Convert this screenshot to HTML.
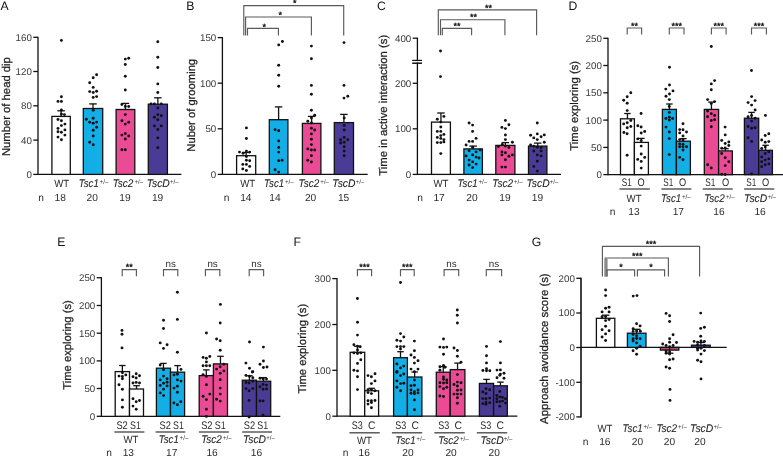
<!DOCTYPE html>
<html><head><meta charset="utf-8"><style>
html,body{margin:0;padding:0;background:#fff;}
svg{display:block;will-change:transform;}
text{font-family:"Liberation Sans", sans-serif;text-rendering:geometricPrecision;}
</style></head><body>
<svg width="783" height="457" viewBox="0 0 783 457">
<rect width="783" height="457" fill="#fff"/>
<text x="0.50" y="9.80" font-size="12.2" text-anchor="start" fill="#111" >A</text>
<text transform="translate(9.90,106.65) rotate(-90)" x="0" y="0" font-size="11.3" text-anchor="middle" fill="#1e1e1e" stroke="#1e1e1e" stroke-width="0.25" textLength="98.90" lengthAdjust="spacingAndGlyphs">Number of head dip</text>
<line x1="38.00" y1="36.70" x2="38.00" y2="175.00" stroke="#111" stroke-width="1.3"/>
<line x1="33.30" y1="174.40" x2="38.00" y2="174.40" stroke="#111" stroke-width="1.3"/>
<text x="31.90" y="177.80" font-size="9.75" text-anchor="end" fill="#383838" >0</text>
<line x1="33.30" y1="140.10" x2="38.00" y2="140.10" stroke="#111" stroke-width="1.3"/>
<text x="31.90" y="143.50" font-size="9.75" text-anchor="end" fill="#383838" >40</text>
<line x1="33.30" y1="105.80" x2="38.00" y2="105.80" stroke="#111" stroke-width="1.3"/>
<text x="31.90" y="109.20" font-size="9.75" text-anchor="end" fill="#383838" >80</text>
<line x1="33.30" y1="71.50" x2="38.00" y2="71.50" stroke="#111" stroke-width="1.3"/>
<text x="31.90" y="74.90" font-size="9.75" text-anchor="end" fill="#383838" >120</text>
<line x1="33.30" y1="37.30" x2="38.00" y2="37.30" stroke="#111" stroke-width="1.3"/>
<text x="31.90" y="40.70" font-size="9.75" text-anchor="end" fill="#383838" >160</text>
<line x1="38.00" y1="174.40" x2="181.40" y2="174.40" stroke="#111" stroke-width="1.3"/>
<rect x="51.90" y="116.40" width="18.40" height="58.00" fill="#fff" stroke="#111" stroke-width="1.3"/>
<line x1="61.10" y1="116.40" x2="61.10" y2="110.80" stroke="#111" stroke-width="1.3"/>
<line x1="57.35" y1="110.80" x2="64.85" y2="110.80" stroke="#111" stroke-width="1.3"/>
<rect x="83.30" y="108.50" width="19.40" height="65.90" fill="#13aee6" stroke="#111" stroke-width="1.3"/>
<line x1="93.00" y1="108.50" x2="93.00" y2="103.90" stroke="#111" stroke-width="1.3"/>
<line x1="89.25" y1="103.90" x2="96.75" y2="103.90" stroke="#111" stroke-width="1.3"/>
<rect x="116.10" y="109.50" width="18.70" height="64.90" fill="#ea4b94" stroke="#111" stroke-width="1.3"/>
<line x1="125.45" y1="109.50" x2="125.45" y2="103.40" stroke="#111" stroke-width="1.3"/>
<line x1="121.70" y1="103.40" x2="129.20" y2="103.40" stroke="#111" stroke-width="1.3"/>
<rect x="148.30" y="104.20" width="19.10" height="70.20" fill="#4a3c96" stroke="#111" stroke-width="1.3"/>
<line x1="157.85" y1="104.20" x2="157.85" y2="97.80" stroke="#111" stroke-width="1.3"/>
<line x1="154.10" y1="97.80" x2="161.60" y2="97.80" stroke="#111" stroke-width="1.3"/>
<circle cx="61.40" cy="40.40" r="1.45" fill="#111"/>
<circle cx="61.40" cy="96.80" r="1.45" fill="#111"/>
<circle cx="58.00" cy="101.40" r="1.45" fill="#111"/>
<circle cx="61.40" cy="101.40" r="1.45" fill="#111"/>
<circle cx="61.40" cy="110.00" r="1.45" fill="#111"/>
<circle cx="61.40" cy="114.10" r="1.45" fill="#111"/>
<circle cx="64.40" cy="114.60" r="1.45" fill="#111"/>
<circle cx="58.00" cy="119.50" r="1.45" fill="#111"/>
<circle cx="61.40" cy="120.70" r="1.45" fill="#111"/>
<circle cx="64.90" cy="124.10" r="1.45" fill="#111"/>
<circle cx="61.40" cy="125.60" r="1.45" fill="#111"/>
<circle cx="58.00" cy="128.40" r="1.45" fill="#111"/>
<circle cx="64.90" cy="129.90" r="1.45" fill="#111"/>
<circle cx="58.00" cy="131.80" r="1.45" fill="#111"/>
<circle cx="61.40" cy="132.20" r="1.45" fill="#111"/>
<circle cx="64.90" cy="135.10" r="1.45" fill="#111"/>
<circle cx="58.00" cy="137.10" r="1.45" fill="#111"/>
<circle cx="61.40" cy="139.70" r="1.45" fill="#111"/>
<circle cx="96.60" cy="74.70" r="1.45" fill="#111"/>
<circle cx="93.20" cy="77.80" r="1.45" fill="#111"/>
<circle cx="89.70" cy="82.80" r="1.45" fill="#111"/>
<circle cx="93.20" cy="87.40" r="1.45" fill="#111"/>
<circle cx="89.70" cy="91.60" r="1.45" fill="#111"/>
<circle cx="93.20" cy="92.50" r="1.45" fill="#111"/>
<circle cx="96.60" cy="91.30" r="1.45" fill="#111"/>
<circle cx="93.20" cy="97.40" r="1.45" fill="#111"/>
<circle cx="96.60" cy="96.60" r="1.45" fill="#111"/>
<circle cx="93.20" cy="110.30" r="1.45" fill="#111"/>
<circle cx="86.30" cy="119.20" r="1.45" fill="#111"/>
<circle cx="93.20" cy="118.30" r="1.45" fill="#111"/>
<circle cx="89.70" cy="122.30" r="1.45" fill="#111"/>
<circle cx="93.20" cy="123.30" r="1.45" fill="#111"/>
<circle cx="96.60" cy="122.10" r="1.45" fill="#111"/>
<circle cx="96.60" cy="127.20" r="1.45" fill="#111"/>
<circle cx="93.20" cy="130.20" r="1.45" fill="#111"/>
<circle cx="93.20" cy="136.00" r="1.45" fill="#111"/>
<circle cx="89.70" cy="142.20" r="1.45" fill="#111"/>
<circle cx="93.20" cy="144.80" r="1.45" fill="#111"/>
<circle cx="125.30" cy="59.10" r="1.45" fill="#111"/>
<circle cx="128.70" cy="58.30" r="1.45" fill="#111"/>
<circle cx="125.30" cy="64.50" r="1.45" fill="#111"/>
<circle cx="125.30" cy="76.20" r="1.45" fill="#111"/>
<circle cx="125.30" cy="90.00" r="1.45" fill="#111"/>
<circle cx="121.90" cy="104.50" r="1.45" fill="#111"/>
<circle cx="125.30" cy="106.50" r="1.45" fill="#111"/>
<circle cx="128.70" cy="106.50" r="1.45" fill="#111"/>
<circle cx="125.30" cy="114.60" r="1.45" fill="#111"/>
<circle cx="121.90" cy="120.70" r="1.45" fill="#111"/>
<circle cx="125.30" cy="124.10" r="1.45" fill="#111"/>
<circle cx="128.70" cy="122.30" r="1.45" fill="#111"/>
<circle cx="121.90" cy="135.10" r="1.45" fill="#111"/>
<circle cx="125.30" cy="133.60" r="1.45" fill="#111"/>
<circle cx="128.70" cy="136.00" r="1.45" fill="#111"/>
<circle cx="125.30" cy="139.00" r="1.45" fill="#111"/>
<circle cx="121.90" cy="149.80" r="1.45" fill="#111"/>
<circle cx="125.30" cy="149.80" r="1.45" fill="#111"/>
<circle cx="157.80" cy="41.80" r="1.45" fill="#111"/>
<circle cx="157.80" cy="57.30" r="1.45" fill="#111"/>
<circle cx="157.80" cy="67.50" r="1.45" fill="#111"/>
<circle cx="157.80" cy="83.90" r="1.45" fill="#111"/>
<circle cx="157.80" cy="92.50" r="1.45" fill="#111"/>
<circle cx="151.00" cy="103.90" r="1.45" fill="#111"/>
<circle cx="154.40" cy="103.90" r="1.45" fill="#111"/>
<circle cx="161.30" cy="103.90" r="1.45" fill="#111"/>
<circle cx="157.80" cy="108.00" r="1.45" fill="#111"/>
<circle cx="157.80" cy="114.60" r="1.45" fill="#111"/>
<circle cx="154.40" cy="117.20" r="1.45" fill="#111"/>
<circle cx="161.30" cy="115.70" r="1.45" fill="#111"/>
<circle cx="157.80" cy="119.80" r="1.45" fill="#111"/>
<circle cx="154.40" cy="125.90" r="1.45" fill="#111"/>
<circle cx="161.30" cy="125.90" r="1.45" fill="#111"/>
<circle cx="157.80" cy="129.50" r="1.45" fill="#111"/>
<circle cx="157.80" cy="137.90" r="1.45" fill="#111"/>
<circle cx="157.80" cy="147.80" r="1.45" fill="#111"/>
<text x="54.20" y="186.80" font-size="10.4" fill="#2c2c2c" textLength="15.00" lengthAdjust="spacingAndGlyphs">WT</text>
<text x="78.80" y="186.80" font-size="11.2" fill="#1e1e1e" font-style="italic" stroke="#1e1e1e" stroke-width="0.1" textLength="20.00" lengthAdjust="spacingAndGlyphs">Tsc1</text>
<text x="99.60" y="184.00" font-size="6.6" fill="#333" textLength="9.00" lengthAdjust="spacingAndGlyphs">+/&#8211;</text>
<text x="112.70" y="186.80" font-size="11.2" fill="#1e1e1e" font-style="italic" stroke="#1e1e1e" stroke-width="0.1" textLength="20.70" lengthAdjust="spacingAndGlyphs">Tsc2</text>
<text x="134.40" y="184.00" font-size="6.6" fill="#333" textLength="8.70" lengthAdjust="spacingAndGlyphs">+/&#8211;</text>
<text x="146.70" y="186.80" font-size="11.2" fill="#1e1e1e" font-style="italic" stroke="#1e1e1e" stroke-width="0.1" textLength="23.10" lengthAdjust="spacingAndGlyphs">TscD</text>
<text x="170.00" y="184.00" font-size="6.6" fill="#333" textLength="8.60" lengthAdjust="spacingAndGlyphs">+/&#8211;</text>
<text x="41.20" y="200.50" font-size="10.2" text-anchor="middle" fill="#2c2c2c">n</text>
<text x="60.20" y="200.50" font-size="10.2" text-anchor="middle" fill="#2c2c2c">18</text>
<text x="92.20" y="200.50" font-size="10.2" text-anchor="middle" fill="#2c2c2c">20</text>
<text x="125.00" y="200.50" font-size="10.2" text-anchor="middle" fill="#2c2c2c">19</text>
<text x="157.60" y="200.50" font-size="10.2" text-anchor="middle" fill="#2c2c2c">19</text>
<text x="186.20" y="9.80" font-size="12.2" text-anchor="start" fill="#111" >B</text>
<text transform="translate(195.30,105.30) rotate(-90)" x="0" y="0" font-size="11.3" text-anchor="middle" fill="#1e1e1e" stroke="#1e1e1e" stroke-width="0.25" textLength="92.80" lengthAdjust="spacingAndGlyphs">Nuber of grooming</text>
<line x1="222.40" y1="37.00" x2="222.40" y2="175.00" stroke="#111" stroke-width="1.3"/>
<line x1="217.70" y1="174.40" x2="222.40" y2="174.40" stroke="#111" stroke-width="1.3"/>
<text x="216.30" y="177.80" font-size="9.75" text-anchor="end" fill="#383838" >0</text>
<line x1="217.70" y1="128.80" x2="222.40" y2="128.80" stroke="#111" stroke-width="1.3"/>
<text x="216.30" y="132.20" font-size="9.75" text-anchor="end" fill="#383838" >50</text>
<line x1="217.70" y1="83.20" x2="222.40" y2="83.20" stroke="#111" stroke-width="1.3"/>
<text x="216.30" y="86.60" font-size="9.75" text-anchor="end" fill="#383838" >100</text>
<line x1="217.70" y1="37.60" x2="222.40" y2="37.60" stroke="#111" stroke-width="1.3"/>
<text x="216.30" y="41.00" font-size="9.75" text-anchor="end" fill="#383838" >150</text>
<line x1="222.40" y1="174.40" x2="367.70" y2="174.40" stroke="#111" stroke-width="1.3"/>
<rect x="236.60" y="155.70" width="19.10" height="18.70" fill="#fff" stroke="#111" stroke-width="1.3"/>
<line x1="246.15" y1="155.70" x2="246.15" y2="152.50" stroke="#111" stroke-width="1.3"/>
<line x1="242.40" y1="152.50" x2="249.90" y2="152.50" stroke="#111" stroke-width="1.3"/>
<rect x="269.30" y="119.70" width="18.60" height="54.70" fill="#13aee6" stroke="#111" stroke-width="1.3"/>
<line x1="278.60" y1="119.70" x2="278.60" y2="106.90" stroke="#111" stroke-width="1.3"/>
<line x1="274.85" y1="106.90" x2="282.35" y2="106.90" stroke="#111" stroke-width="1.3"/>
<rect x="302.40" y="123.40" width="18.50" height="51.00" fill="#ea4b94" stroke="#111" stroke-width="1.3"/>
<line x1="311.65" y1="123.40" x2="311.65" y2="116.40" stroke="#111" stroke-width="1.3"/>
<line x1="307.90" y1="116.40" x2="315.40" y2="116.40" stroke="#111" stroke-width="1.3"/>
<rect x="334.30" y="122.60" width="19.20" height="51.80" fill="#4a3c96" stroke="#111" stroke-width="1.3"/>
<line x1="343.90" y1="122.60" x2="343.90" y2="114.40" stroke="#111" stroke-width="1.3"/>
<line x1="340.15" y1="114.40" x2="347.65" y2="114.40" stroke="#111" stroke-width="1.3"/>
<circle cx="246.40" cy="127.90" r="1.45" fill="#111"/>
<circle cx="246.40" cy="138.50" r="1.45" fill="#111"/>
<circle cx="239.50" cy="152.10" r="1.45" fill="#111"/>
<circle cx="243.10" cy="153.30" r="1.45" fill="#111"/>
<circle cx="246.40" cy="151.10" r="1.45" fill="#111"/>
<circle cx="249.70" cy="152.10" r="1.45" fill="#111"/>
<circle cx="246.40" cy="156.60" r="1.45" fill="#111"/>
<circle cx="246.40" cy="160.30" r="1.45" fill="#111"/>
<circle cx="249.70" cy="160.70" r="1.45" fill="#111"/>
<circle cx="242.80" cy="164.40" r="1.45" fill="#111"/>
<circle cx="246.40" cy="164.40" r="1.45" fill="#111"/>
<circle cx="249.70" cy="166.40" r="1.45" fill="#111"/>
<circle cx="242.80" cy="168.90" r="1.45" fill="#111"/>
<circle cx="246.40" cy="170.50" r="1.45" fill="#111"/>
<circle cx="282.40" cy="41.50" r="1.45" fill="#111"/>
<circle cx="278.70" cy="44.90" r="1.45" fill="#111"/>
<circle cx="278.70" cy="65.20" r="1.45" fill="#111"/>
<circle cx="278.70" cy="75.30" r="1.45" fill="#111"/>
<circle cx="278.70" cy="86.20" r="1.45" fill="#111"/>
<circle cx="275.10" cy="129.80" r="1.45" fill="#111"/>
<circle cx="278.70" cy="130.80" r="1.45" fill="#111"/>
<circle cx="278.70" cy="141.00" r="1.45" fill="#111"/>
<circle cx="278.70" cy="147.50" r="1.45" fill="#111"/>
<circle cx="278.70" cy="152.10" r="1.45" fill="#111"/>
<circle cx="278.70" cy="160.70" r="1.45" fill="#111"/>
<circle cx="282.10" cy="160.30" r="1.45" fill="#111"/>
<circle cx="275.10" cy="169.70" r="1.45" fill="#111"/>
<circle cx="278.70" cy="172.10" r="1.45" fill="#111"/>
<circle cx="311.40" cy="46.10" r="1.45" fill="#111"/>
<circle cx="311.40" cy="58.80" r="1.45" fill="#111"/>
<circle cx="311.40" cy="85.40" r="1.45" fill="#111"/>
<circle cx="311.40" cy="94.30" r="1.45" fill="#111"/>
<circle cx="311.40" cy="110.20" r="1.45" fill="#111"/>
<circle cx="314.70" cy="115.20" r="1.45" fill="#111"/>
<circle cx="311.40" cy="118.00" r="1.45" fill="#111"/>
<circle cx="307.80" cy="121.30" r="1.45" fill="#111"/>
<circle cx="311.40" cy="123.00" r="1.45" fill="#111"/>
<circle cx="311.40" cy="128.20" r="1.45" fill="#111"/>
<circle cx="314.70" cy="130.00" r="1.45" fill="#111"/>
<circle cx="311.40" cy="133.90" r="1.45" fill="#111"/>
<circle cx="311.40" cy="139.30" r="1.45" fill="#111"/>
<circle cx="311.40" cy="144.60" r="1.45" fill="#111"/>
<circle cx="307.80" cy="148.90" r="1.45" fill="#111"/>
<circle cx="311.40" cy="150.00" r="1.45" fill="#111"/>
<circle cx="314.70" cy="150.00" r="1.45" fill="#111"/>
<circle cx="311.40" cy="155.70" r="1.45" fill="#111"/>
<circle cx="307.80" cy="160.30" r="1.45" fill="#111"/>
<circle cx="311.40" cy="162.00" r="1.45" fill="#111"/>
<circle cx="344.00" cy="42.60" r="1.45" fill="#111"/>
<circle cx="344.00" cy="85.40" r="1.45" fill="#111"/>
<circle cx="347.80" cy="96.20" r="1.45" fill="#111"/>
<circle cx="344.00" cy="98.10" r="1.45" fill="#111"/>
<circle cx="344.20" cy="118.00" r="1.45" fill="#111"/>
<circle cx="344.20" cy="125.40" r="1.45" fill="#111"/>
<circle cx="344.20" cy="130.00" r="1.45" fill="#111"/>
<circle cx="344.20" cy="137.40" r="1.45" fill="#111"/>
<circle cx="340.60" cy="139.70" r="1.45" fill="#111"/>
<circle cx="347.80" cy="139.70" r="1.45" fill="#111"/>
<circle cx="344.20" cy="142.30" r="1.45" fill="#111"/>
<circle cx="340.60" cy="143.00" r="1.45" fill="#111"/>
<circle cx="344.20" cy="146.70" r="1.45" fill="#111"/>
<circle cx="344.20" cy="151.10" r="1.45" fill="#111"/>
<circle cx="344.20" cy="155.70" r="1.45" fill="#111"/>
<polyline points="243.80,35.40 243.80,5.60 343.70,5.60 343.70,35.40" fill="none" stroke="#5a5a5a" stroke-width="1.15"/>
<text x="294.70" y="6.40" font-size="9.0" text-anchor="middle" fill="#111" stroke="#111" stroke-width="0.35">*</text>
<polyline points="245.60,35.40 245.60,17.00 311.40,17.00 311.40,35.40" fill="none" stroke="#5a5a5a" stroke-width="1.15"/>
<text x="280.20" y="17.90" font-size="9.0" text-anchor="middle" fill="#111" stroke="#111" stroke-width="0.35">*</text>
<polyline points="247.50,35.40 247.50,28.40 278.40,28.40 278.40,35.40" fill="none" stroke="#5a5a5a" stroke-width="1.15"/>
<text x="264.30" y="29.50" font-size="9.0" text-anchor="middle" fill="#111" stroke="#111" stroke-width="0.35">*</text>
<text x="240.20" y="186.80" font-size="10.4" fill="#2c2c2c" textLength="15.00" lengthAdjust="spacingAndGlyphs">WT</text>
<text x="264.10" y="186.80" font-size="11.2" fill="#1e1e1e" font-style="italic" stroke="#1e1e1e" stroke-width="0.1" textLength="20.00" lengthAdjust="spacingAndGlyphs">Tsc1</text>
<text x="284.90" y="184.00" font-size="6.6" fill="#333" textLength="9.00" lengthAdjust="spacingAndGlyphs">+/&#8211;</text>
<text x="298.60" y="186.80" font-size="11.2" fill="#1e1e1e" font-style="italic" stroke="#1e1e1e" stroke-width="0.1" textLength="20.70" lengthAdjust="spacingAndGlyphs">Tsc2</text>
<text x="320.30" y="184.00" font-size="6.6" fill="#333" textLength="8.70" lengthAdjust="spacingAndGlyphs">+/&#8211;</text>
<text x="332.30" y="186.80" font-size="11.2" fill="#1e1e1e" font-style="italic" stroke="#1e1e1e" stroke-width="0.1" textLength="23.10" lengthAdjust="spacingAndGlyphs">TscD</text>
<text x="355.60" y="184.00" font-size="6.6" fill="#333" textLength="8.60" lengthAdjust="spacingAndGlyphs">+/&#8211;</text>
<text x="226.55" y="200.50" font-size="10.2" text-anchor="middle" fill="#2c2c2c">n</text>
<text x="245.80" y="200.50" font-size="10.2" text-anchor="middle" fill="#2c2c2c">14</text>
<text x="274.90" y="200.50" font-size="10.2" text-anchor="middle" fill="#2c2c2c">14</text>
<text x="310.60" y="200.50" font-size="10.2" text-anchor="middle" fill="#2c2c2c">20</text>
<text x="343.60" y="200.50" font-size="10.2" text-anchor="middle" fill="#2c2c2c">15</text>
<text x="377.00" y="9.80" font-size="12.2" text-anchor="start" fill="#111" >C</text>
<text transform="translate(387.30,105.25) rotate(-90)" x="0" y="0" font-size="11.3" text-anchor="middle" fill="#1e1e1e" stroke="#1e1e1e" stroke-width="0.25" textLength="140.90" lengthAdjust="spacingAndGlyphs">Time in active interaction (s)</text>
<line x1="417.40" y1="37.60" x2="417.40" y2="175.00" stroke="#111" stroke-width="1.3"/>
<line x1="412.70" y1="174.40" x2="417.40" y2="174.40" stroke="#111" stroke-width="1.3"/>
<text x="411.30" y="177.80" font-size="9.75" text-anchor="end" fill="#383838" >0</text>
<line x1="412.70" y1="128.80" x2="417.40" y2="128.80" stroke="#111" stroke-width="1.3"/>
<text x="411.30" y="132.20" font-size="9.75" text-anchor="end" fill="#383838" >100</text>
<line x1="412.70" y1="83.30" x2="417.40" y2="83.30" stroke="#111" stroke-width="1.3"/>
<text x="411.30" y="86.70" font-size="9.75" text-anchor="end" fill="#383838" >200</text>
<line x1="412.70" y1="38.20" x2="417.40" y2="38.20" stroke="#111" stroke-width="1.3"/>
<text x="411.30" y="41.60" font-size="9.75" text-anchor="end" fill="#383838" >400</text>
<rect x="415" y="61.2" width="5" height="1.3" fill="#fff"/>
<line x1="412.20" y1="60.40" x2="422.00" y2="60.40" stroke="#111" stroke-width="1.2"/>
<line x1="412.20" y1="63.20" x2="422.00" y2="63.20" stroke="#111" stroke-width="1.5"/>
<line x1="417.40" y1="174.40" x2="561.00" y2="174.40" stroke="#111" stroke-width="1.3"/>
<rect x="431.50" y="122.10" width="18.90" height="52.30" fill="#fff" stroke="#111" stroke-width="1.3"/>
<line x1="440.95" y1="122.10" x2="440.95" y2="113.00" stroke="#111" stroke-width="1.3"/>
<line x1="437.20" y1="113.00" x2="444.70" y2="113.00" stroke="#111" stroke-width="1.3"/>
<rect x="463.90" y="148.90" width="18.50" height="25.50" fill="#13aee6" stroke="#111" stroke-width="1.3"/>
<line x1="473.15" y1="148.90" x2="473.15" y2="146.10" stroke="#111" stroke-width="1.3"/>
<line x1="469.40" y1="146.10" x2="476.90" y2="146.10" stroke="#111" stroke-width="1.3"/>
<rect x="495.80" y="145.40" width="19.10" height="29.00" fill="#ea4b94" stroke="#111" stroke-width="1.3"/>
<line x1="505.35" y1="145.40" x2="505.35" y2="142.60" stroke="#111" stroke-width="1.3"/>
<line x1="501.60" y1="142.60" x2="509.10" y2="142.60" stroke="#111" stroke-width="1.3"/>
<rect x="528.50" y="146.10" width="18.40" height="28.30" fill="#4a3c96" stroke="#111" stroke-width="1.3"/>
<line x1="537.70" y1="146.10" x2="537.70" y2="143.10" stroke="#111" stroke-width="1.3"/>
<line x1="533.95" y1="143.10" x2="541.45" y2="143.10" stroke="#111" stroke-width="1.3"/>
<circle cx="440.50" cy="51.00" r="1.45" fill="#111"/>
<circle cx="440.50" cy="76.60" r="1.45" fill="#111"/>
<circle cx="437.30" cy="119.20" r="1.45" fill="#111"/>
<circle cx="443.90" cy="116.40" r="1.45" fill="#111"/>
<circle cx="440.80" cy="122.10" r="1.45" fill="#111"/>
<circle cx="440.80" cy="127.00" r="1.45" fill="#111"/>
<circle cx="437.30" cy="131.40" r="1.45" fill="#111"/>
<circle cx="440.80" cy="131.40" r="1.45" fill="#111"/>
<circle cx="443.90" cy="134.40" r="1.45" fill="#111"/>
<circle cx="437.30" cy="137.40" r="1.45" fill="#111"/>
<circle cx="440.80" cy="135.60" r="1.45" fill="#111"/>
<circle cx="440.80" cy="138.40" r="1.45" fill="#111"/>
<circle cx="443.90" cy="139.60" r="1.45" fill="#111"/>
<circle cx="437.30" cy="142.60" r="1.45" fill="#111"/>
<circle cx="440.80" cy="142.60" r="1.45" fill="#111"/>
<circle cx="443.90" cy="141.90" r="1.45" fill="#111"/>
<circle cx="440.80" cy="153.60" r="1.45" fill="#111"/>
<circle cx="469.10" cy="123.00" r="1.45" fill="#111"/>
<circle cx="472.60" cy="125.10" r="1.45" fill="#111"/>
<circle cx="472.60" cy="131.40" r="1.45" fill="#111"/>
<circle cx="476.10" cy="138.40" r="1.45" fill="#111"/>
<circle cx="469.10" cy="141.40" r="1.45" fill="#111"/>
<circle cx="472.60" cy="141.40" r="1.45" fill="#111"/>
<circle cx="466.10" cy="145.00" r="1.45" fill="#111"/>
<circle cx="472.60" cy="147.20" r="1.45" fill="#111"/>
<circle cx="469.10" cy="150.70" r="1.45" fill="#111"/>
<circle cx="476.10" cy="151.90" r="1.45" fill="#111"/>
<circle cx="480.10" cy="150.10" r="1.45" fill="#111"/>
<circle cx="466.10" cy="155.90" r="1.45" fill="#111"/>
<circle cx="472.60" cy="154.90" r="1.45" fill="#111"/>
<circle cx="476.10" cy="157.10" r="1.45" fill="#111"/>
<circle cx="479.00" cy="158.00" r="1.45" fill="#111"/>
<circle cx="469.10" cy="160.10" r="1.45" fill="#111"/>
<circle cx="472.60" cy="161.90" r="1.45" fill="#111"/>
<circle cx="476.10" cy="164.10" r="1.45" fill="#111"/>
<circle cx="469.10" cy="165.00" r="1.45" fill="#111"/>
<circle cx="472.60" cy="167.60" r="1.45" fill="#111"/>
<circle cx="505.40" cy="120.40" r="1.45" fill="#111"/>
<circle cx="508.90" cy="124.80" r="1.45" fill="#111"/>
<circle cx="501.90" cy="127.40" r="1.45" fill="#111"/>
<circle cx="505.40" cy="128.60" r="1.45" fill="#111"/>
<circle cx="505.40" cy="135.00" r="1.45" fill="#111"/>
<circle cx="505.40" cy="139.60" r="1.45" fill="#111"/>
<circle cx="512.40" cy="142.30" r="1.45" fill="#111"/>
<circle cx="498.40" cy="146.60" r="1.45" fill="#111"/>
<circle cx="502.30" cy="144.40" r="1.45" fill="#111"/>
<circle cx="505.40" cy="146.10" r="1.45" fill="#111"/>
<circle cx="508.90" cy="147.50" r="1.45" fill="#111"/>
<circle cx="501.90" cy="151.90" r="1.45" fill="#111"/>
<circle cx="505.40" cy="152.80" r="1.45" fill="#111"/>
<circle cx="501.90" cy="154.90" r="1.45" fill="#111"/>
<circle cx="508.90" cy="156.30" r="1.45" fill="#111"/>
<circle cx="512.40" cy="154.90" r="1.45" fill="#111"/>
<circle cx="505.40" cy="159.80" r="1.45" fill="#111"/>
<circle cx="501.90" cy="167.10" r="1.45" fill="#111"/>
<circle cx="505.40" cy="167.10" r="1.45" fill="#111"/>
<circle cx="537.30" cy="123.00" r="1.45" fill="#111"/>
<circle cx="530.60" cy="135.30" r="1.45" fill="#111"/>
<circle cx="537.30" cy="133.90" r="1.45" fill="#111"/>
<circle cx="533.80" cy="137.90" r="1.45" fill="#111"/>
<circle cx="537.30" cy="139.60" r="1.45" fill="#111"/>
<circle cx="541.10" cy="136.70" r="1.45" fill="#111"/>
<circle cx="544.30" cy="134.90" r="1.45" fill="#111"/>
<circle cx="544.30" cy="142.30" r="1.45" fill="#111"/>
<circle cx="530.60" cy="144.90" r="1.45" fill="#111"/>
<circle cx="533.80" cy="146.10" r="1.45" fill="#111"/>
<circle cx="537.30" cy="147.20" r="1.45" fill="#111"/>
<circle cx="541.10" cy="147.50" r="1.45" fill="#111"/>
<circle cx="533.80" cy="151.00" r="1.45" fill="#111"/>
<circle cx="541.10" cy="151.00" r="1.45" fill="#111"/>
<circle cx="537.30" cy="154.90" r="1.45" fill="#111"/>
<circle cx="541.10" cy="155.90" r="1.45" fill="#111"/>
<circle cx="537.30" cy="161.20" r="1.45" fill="#111"/>
<circle cx="533.80" cy="166.40" r="1.45" fill="#111"/>
<circle cx="537.30" cy="171.10" r="1.45" fill="#111"/>
<polyline points="438.30,35.20 438.30,9.80 536.60,9.80 536.60,35.20" fill="none" stroke="#5a5a5a" stroke-width="1.15"/>
<text x="488.40" y="10.90" font-size="9.0" text-anchor="middle" fill="#111" stroke="#111" stroke-width="0.35">**</text>
<polyline points="440.50,35.20 440.50,19.70 504.90,19.70 504.90,35.20" fill="none" stroke="#5a5a5a" stroke-width="1.15"/>
<text x="473.60" y="20.20" font-size="9.0" text-anchor="middle" fill="#111" stroke="#111" stroke-width="0.35">**</text>
<polyline points="442.30,35.20 442.30,28.40 471.60,28.40 471.60,35.20" fill="none" stroke="#5a5a5a" stroke-width="1.15"/>
<text x="457.10" y="29.20" font-size="9.0" text-anchor="middle" fill="#111" stroke="#111" stroke-width="0.35">**</text>
<text x="433.50" y="186.80" font-size="10.4" fill="#2c2c2c" textLength="15.00" lengthAdjust="spacingAndGlyphs">WT</text>
<text x="457.60" y="186.80" font-size="11.2" fill="#1e1e1e" font-style="italic" stroke="#1e1e1e" stroke-width="0.1" textLength="20.00" lengthAdjust="spacingAndGlyphs">Tsc1</text>
<text x="478.40" y="184.00" font-size="6.6" fill="#333" textLength="9.00" lengthAdjust="spacingAndGlyphs">+/&#8211;</text>
<text x="492.30" y="186.80" font-size="11.2" fill="#1e1e1e" font-style="italic" stroke="#1e1e1e" stroke-width="0.1" textLength="20.70" lengthAdjust="spacingAndGlyphs">Tsc2</text>
<text x="514.00" y="184.00" font-size="6.6" fill="#333" textLength="8.70" lengthAdjust="spacingAndGlyphs">+/&#8211;</text>
<text x="526.50" y="186.80" font-size="11.2" fill="#1e1e1e" font-style="italic" stroke="#1e1e1e" stroke-width="0.1" textLength="23.10" lengthAdjust="spacingAndGlyphs">TscD</text>
<text x="549.80" y="184.00" font-size="6.6" fill="#333" textLength="8.60" lengthAdjust="spacingAndGlyphs">+/&#8211;</text>
<text x="420.00" y="200.50" font-size="10.2" text-anchor="middle" fill="#2c2c2c">n</text>
<text x="439.10" y="200.50" font-size="10.2" text-anchor="middle" fill="#2c2c2c">17</text>
<text x="471.90" y="200.50" font-size="10.2" text-anchor="middle" fill="#2c2c2c">20</text>
<text x="504.90" y="200.50" font-size="10.2" text-anchor="middle" fill="#2c2c2c">19</text>
<text x="537.50" y="200.50" font-size="10.2" text-anchor="middle" fill="#2c2c2c">19</text>
<text x="568.50" y="9.80" font-size="12.2" text-anchor="start" fill="#111" >D</text>
<text transform="translate(577.90,105.80) rotate(-90)" x="0" y="0" font-size="11.3" text-anchor="middle" fill="#1e1e1e" stroke="#1e1e1e" stroke-width="0.25" textLength="89.80" lengthAdjust="spacingAndGlyphs">Time exploring (s)</text>
<line x1="608.00" y1="37.70" x2="608.00" y2="175.30" stroke="#111" stroke-width="1.3"/>
<line x1="603.30" y1="174.60" x2="608.00" y2="174.60" stroke="#111" stroke-width="1.3"/>
<text x="601.90" y="178.00" font-size="9.75" text-anchor="end" fill="#383838" >0</text>
<line x1="603.30" y1="147.40" x2="608.00" y2="147.40" stroke="#111" stroke-width="1.3"/>
<text x="601.90" y="150.80" font-size="9.75" text-anchor="end" fill="#383838" >50</text>
<line x1="603.30" y1="120.10" x2="608.00" y2="120.10" stroke="#111" stroke-width="1.3"/>
<text x="601.90" y="123.50" font-size="9.75" text-anchor="end" fill="#383838" >100</text>
<line x1="603.30" y1="92.80" x2="608.00" y2="92.80" stroke="#111" stroke-width="1.3"/>
<text x="601.90" y="96.20" font-size="9.75" text-anchor="end" fill="#383838" >150</text>
<line x1="603.30" y1="65.50" x2="608.00" y2="65.50" stroke="#111" stroke-width="1.3"/>
<text x="601.90" y="68.90" font-size="9.75" text-anchor="end" fill="#383838" >200</text>
<line x1="603.30" y1="38.30" x2="608.00" y2="38.30" stroke="#111" stroke-width="1.3"/>
<text x="601.90" y="41.70" font-size="9.75" text-anchor="end" fill="#383838" >250</text>
<line x1="608.00" y1="174.70" x2="783.00" y2="174.70" stroke="#111" stroke-width="1.3"/>
<rect x="620.50" y="118.80" width="13.90" height="55.80" fill="#fff" stroke="#111" stroke-width="1.3"/>
<line x1="627.45" y1="118.80" x2="627.45" y2="113.50" stroke="#111" stroke-width="1.3"/>
<line x1="624.20" y1="113.50" x2="630.70" y2="113.50" stroke="#111" stroke-width="1.3"/>
<rect x="634.40" y="142.40" width="14.00" height="32.20" fill="#fff" stroke="#111" stroke-width="1.3"/>
<line x1="641.40" y1="142.40" x2="641.40" y2="138.40" stroke="#111" stroke-width="1.3"/>
<line x1="638.15" y1="138.40" x2="644.65" y2="138.40" stroke="#111" stroke-width="1.3"/>
<rect x="662.40" y="109.40" width="14.00" height="65.20" fill="#13aee6" stroke="#111" stroke-width="1.3"/>
<line x1="669.40" y1="109.40" x2="669.40" y2="104.00" stroke="#111" stroke-width="1.3"/>
<line x1="666.15" y1="104.00" x2="672.65" y2="104.00" stroke="#111" stroke-width="1.3"/>
<rect x="676.40" y="141.20" width="14.00" height="33.40" fill="#13aee6" stroke="#111" stroke-width="1.3"/>
<line x1="683.40" y1="141.20" x2="683.40" y2="138.60" stroke="#111" stroke-width="1.3"/>
<line x1="680.15" y1="138.60" x2="686.65" y2="138.60" stroke="#111" stroke-width="1.3"/>
<rect x="704.30" y="109.40" width="14.30" height="65.20" fill="#ea4b94" stroke="#111" stroke-width="1.3"/>
<line x1="711.45" y1="109.40" x2="711.45" y2="102.10" stroke="#111" stroke-width="1.3"/>
<line x1="708.20" y1="102.10" x2="714.70" y2="102.10" stroke="#111" stroke-width="1.3"/>
<rect x="718.60" y="150.90" width="13.70" height="23.70" fill="#ea4b94" stroke="#111" stroke-width="1.3"/>
<line x1="725.45" y1="150.90" x2="725.45" y2="148.70" stroke="#111" stroke-width="1.3"/>
<line x1="722.20" y1="148.70" x2="728.70" y2="148.70" stroke="#111" stroke-width="1.3"/>
<rect x="744.40" y="118.20" width="14.30" height="56.40" fill="#4a3c96" stroke="#111" stroke-width="1.3"/>
<line x1="751.55" y1="118.20" x2="751.55" y2="112.40" stroke="#111" stroke-width="1.3"/>
<line x1="748.30" y1="112.40" x2="754.80" y2="112.40" stroke="#111" stroke-width="1.3"/>
<rect x="758.70" y="150.30" width="13.70" height="24.30" fill="#4a3c96" stroke="#111" stroke-width="1.3"/>
<line x1="765.55" y1="150.30" x2="765.55" y2="145.30" stroke="#111" stroke-width="1.3"/>
<line x1="762.30" y1="145.30" x2="768.80" y2="145.30" stroke="#111" stroke-width="1.3"/>
<circle cx="630.80" cy="92.80" r="1.45" fill="#111"/>
<circle cx="627.20" cy="96.70" r="1.45" fill="#111"/>
<circle cx="623.70" cy="100.20" r="1.45" fill="#111"/>
<circle cx="627.20" cy="103.20" r="1.45" fill="#111"/>
<circle cx="627.20" cy="110.60" r="1.45" fill="#111"/>
<circle cx="630.80" cy="120.50" r="1.45" fill="#111"/>
<circle cx="623.70" cy="123.90" r="1.45" fill="#111"/>
<circle cx="627.20" cy="122.80" r="1.45" fill="#111"/>
<circle cx="627.20" cy="127.70" r="1.45" fill="#111"/>
<circle cx="630.80" cy="126.50" r="1.45" fill="#111"/>
<circle cx="623.90" cy="132.50" r="1.45" fill="#111"/>
<circle cx="627.10" cy="133.80" r="1.45" fill="#111"/>
<circle cx="627.10" cy="155.20" r="1.45" fill="#111"/>
<circle cx="641.10" cy="113.50" r="1.45" fill="#111"/>
<circle cx="637.80" cy="125.70" r="1.45" fill="#111"/>
<circle cx="641.10" cy="127.00" r="1.45" fill="#111"/>
<circle cx="644.70" cy="131.50" r="1.45" fill="#111"/>
<circle cx="641.20" cy="133.00" r="1.45" fill="#111"/>
<circle cx="637.70" cy="138.90" r="1.45" fill="#111"/>
<circle cx="641.20" cy="140.60" r="1.45" fill="#111"/>
<circle cx="641.20" cy="146.10" r="1.45" fill="#111"/>
<circle cx="641.20" cy="154.00" r="1.45" fill="#111"/>
<circle cx="644.70" cy="157.40" r="1.45" fill="#111"/>
<circle cx="637.70" cy="159.40" r="1.45" fill="#111"/>
<circle cx="641.20" cy="161.40" r="1.45" fill="#111"/>
<circle cx="641.20" cy="168.10" r="1.45" fill="#111"/>
<circle cx="669.50" cy="67.20" r="1.45" fill="#111"/>
<circle cx="669.50" cy="85.00" r="1.45" fill="#111"/>
<circle cx="665.80" cy="89.10" r="1.45" fill="#111"/>
<circle cx="673.00" cy="90.90" r="1.45" fill="#111"/>
<circle cx="669.50" cy="94.00" r="1.45" fill="#111"/>
<circle cx="666.00" cy="96.30" r="1.45" fill="#111"/>
<circle cx="669.30" cy="99.60" r="1.45" fill="#111"/>
<circle cx="669.30" cy="106.40" r="1.45" fill="#111"/>
<circle cx="669.30" cy="112.40" r="1.45" fill="#111"/>
<circle cx="665.90" cy="118.50" r="1.45" fill="#111"/>
<circle cx="669.30" cy="117.30" r="1.45" fill="#111"/>
<circle cx="672.60" cy="118.50" r="1.45" fill="#111"/>
<circle cx="669.30" cy="120.10" r="1.45" fill="#111"/>
<circle cx="666.00" cy="127.10" r="1.45" fill="#111"/>
<circle cx="669.30" cy="132.00" r="1.45" fill="#111"/>
<circle cx="669.30" cy="138.60" r="1.45" fill="#111"/>
<circle cx="669.30" cy="154.60" r="1.45" fill="#111"/>
<circle cx="683.00" cy="123.80" r="1.45" fill="#111"/>
<circle cx="679.70" cy="129.60" r="1.45" fill="#111"/>
<circle cx="683.00" cy="129.80" r="1.45" fill="#111"/>
<circle cx="679.70" cy="132.90" r="1.45" fill="#111"/>
<circle cx="686.50" cy="132.00" r="1.45" fill="#111"/>
<circle cx="683.00" cy="135.90" r="1.45" fill="#111"/>
<circle cx="679.70" cy="139.60" r="1.45" fill="#111"/>
<circle cx="683.00" cy="139.90" r="1.45" fill="#111"/>
<circle cx="679.70" cy="143.90" r="1.45" fill="#111"/>
<circle cx="683.00" cy="144.30" r="1.45" fill="#111"/>
<circle cx="679.70" cy="146.70" r="1.45" fill="#111"/>
<circle cx="683.00" cy="146.70" r="1.45" fill="#111"/>
<circle cx="686.50" cy="146.70" r="1.45" fill="#111"/>
<circle cx="683.00" cy="150.00" r="1.45" fill="#111"/>
<circle cx="679.70" cy="157.40" r="1.45" fill="#111"/>
<circle cx="683.00" cy="159.80" r="1.45" fill="#111"/>
<circle cx="711.30" cy="46.50" r="1.45" fill="#111"/>
<circle cx="714.60" cy="80.60" r="1.45" fill="#111"/>
<circle cx="711.30" cy="83.90" r="1.45" fill="#111"/>
<circle cx="711.30" cy="89.80" r="1.45" fill="#111"/>
<circle cx="707.60" cy="99.60" r="1.45" fill="#111"/>
<circle cx="714.60" cy="101.60" r="1.45" fill="#111"/>
<circle cx="711.30" cy="103.60" r="1.45" fill="#111"/>
<circle cx="707.60" cy="111.00" r="1.45" fill="#111"/>
<circle cx="711.30" cy="113.70" r="1.45" fill="#111"/>
<circle cx="714.60" cy="115.40" r="1.45" fill="#111"/>
<circle cx="707.60" cy="116.70" r="1.45" fill="#111"/>
<circle cx="714.60" cy="119.80" r="1.45" fill="#111"/>
<circle cx="711.30" cy="120.50" r="1.45" fill="#111"/>
<circle cx="711.30" cy="126.80" r="1.45" fill="#111"/>
<circle cx="707.70" cy="164.80" r="1.45" fill="#111"/>
<circle cx="711.30" cy="168.00" r="1.45" fill="#111"/>
<circle cx="725.10" cy="127.10" r="1.45" fill="#111"/>
<circle cx="725.20" cy="134.90" r="1.45" fill="#111"/>
<circle cx="721.70" cy="140.40" r="1.45" fill="#111"/>
<circle cx="725.20" cy="143.50" r="1.45" fill="#111"/>
<circle cx="728.80" cy="142.00" r="1.45" fill="#111"/>
<circle cx="728.80" cy="145.50" r="1.45" fill="#111"/>
<circle cx="721.70" cy="148.20" r="1.45" fill="#111"/>
<circle cx="725.20" cy="147.90" r="1.45" fill="#111"/>
<circle cx="721.70" cy="153.50" r="1.45" fill="#111"/>
<circle cx="725.20" cy="157.70" r="1.45" fill="#111"/>
<circle cx="728.80" cy="161.70" r="1.45" fill="#111"/>
<circle cx="725.20" cy="165.60" r="1.45" fill="#111"/>
<circle cx="721.70" cy="174.30" r="1.45" fill="#111"/>
<circle cx="725.20" cy="174.50" r="1.45" fill="#111"/>
<circle cx="751.50" cy="70.50" r="1.45" fill="#111"/>
<circle cx="751.60" cy="96.60" r="1.45" fill="#111"/>
<circle cx="755.10" cy="100.60" r="1.45" fill="#111"/>
<circle cx="748.10" cy="102.60" r="1.45" fill="#111"/>
<circle cx="751.60" cy="105.10" r="1.45" fill="#111"/>
<circle cx="755.10" cy="110.00" r="1.45" fill="#111"/>
<circle cx="751.60" cy="115.40" r="1.45" fill="#111"/>
<circle cx="748.10" cy="116.70" r="1.45" fill="#111"/>
<circle cx="755.10" cy="118.20" r="1.45" fill="#111"/>
<circle cx="751.60" cy="121.10" r="1.45" fill="#111"/>
<circle cx="748.10" cy="126.50" r="1.45" fill="#111"/>
<circle cx="751.60" cy="128.30" r="1.45" fill="#111"/>
<circle cx="755.10" cy="127.80" r="1.45" fill="#111"/>
<circle cx="748.10" cy="137.80" r="1.45" fill="#111"/>
<circle cx="751.60" cy="141.40" r="1.45" fill="#111"/>
<circle cx="751.60" cy="173.90" r="1.45" fill="#111"/>
<circle cx="765.40" cy="115.40" r="1.45" fill="#111"/>
<circle cx="768.80" cy="133.70" r="1.45" fill="#111"/>
<circle cx="765.20" cy="135.50" r="1.45" fill="#111"/>
<circle cx="761.70" cy="140.00" r="1.45" fill="#111"/>
<circle cx="765.20" cy="142.30" r="1.45" fill="#111"/>
<circle cx="768.80" cy="141.60" r="1.45" fill="#111"/>
<circle cx="761.70" cy="148.50" r="1.45" fill="#111"/>
<circle cx="765.20" cy="147.10" r="1.45" fill="#111"/>
<circle cx="768.80" cy="151.80" r="1.45" fill="#111"/>
<circle cx="765.20" cy="153.50" r="1.45" fill="#111"/>
<circle cx="761.70" cy="157.00" r="1.45" fill="#111"/>
<circle cx="768.80" cy="158.90" r="1.45" fill="#111"/>
<circle cx="765.20" cy="160.10" r="1.45" fill="#111"/>
<circle cx="761.70" cy="161.70" r="1.45" fill="#111"/>
<circle cx="768.80" cy="163.90" r="1.45" fill="#111"/>
<circle cx="765.20" cy="164.80" r="1.45" fill="#111"/>
<circle cx="761.70" cy="166.80" r="1.45" fill="#111"/>
<polyline points="627.20,34.60 627.20,28.00 641.60,28.00 641.60,34.60" fill="none" stroke="#5a5a5a" stroke-width="1.15"/>
<text x="634.40" y="28.60" font-size="9.0" text-anchor="middle" fill="#111" stroke="#111" stroke-width="0.35">**</text>
<polyline points="669.30,34.60 669.30,28.00 684.00,28.00 684.00,34.60" fill="none" stroke="#5a5a5a" stroke-width="1.15"/>
<text x="676.65" y="28.60" font-size="9.0" text-anchor="middle" fill="#111" stroke="#111" stroke-width="0.35">***</text>
<polyline points="711.40,34.60 711.40,28.00 726.10,28.00 726.10,34.60" fill="none" stroke="#5a5a5a" stroke-width="1.15"/>
<text x="718.75" y="28.60" font-size="9.0" text-anchor="middle" fill="#111" stroke="#111" stroke-width="0.35">***</text>
<polyline points="751.50,34.60 751.50,28.00 766.40,28.00 766.40,34.60" fill="none" stroke="#5a5a5a" stroke-width="1.15"/>
<text x="758.95" y="28.60" font-size="9.0" text-anchor="middle" fill="#111" stroke="#111" stroke-width="0.35">***</text>
<text x="621.80" y="186.20" font-size="11.0" fill="#2c2c2c" textLength="10.00" lengthAdjust="spacingAndGlyphs">S1</text>
<text x="637.50" y="186.20" font-size="11.0" fill="#2c2c2c" textLength="7.20" lengthAdjust="spacingAndGlyphs">O</text>
<text x="663.30" y="186.20" font-size="11.0" fill="#2c2c2c" textLength="10.00" lengthAdjust="spacingAndGlyphs">S1</text>
<text x="678.90" y="186.20" font-size="11.0" fill="#2c2c2c" textLength="7.20" lengthAdjust="spacingAndGlyphs">O</text>
<text x="705.30" y="186.20" font-size="11.0" fill="#2c2c2c" textLength="10.00" lengthAdjust="spacingAndGlyphs">S1</text>
<text x="721.90" y="186.20" font-size="11.0" fill="#2c2c2c" textLength="7.20" lengthAdjust="spacingAndGlyphs">O</text>
<text x="746.20" y="186.20" font-size="11.0" fill="#2c2c2c" textLength="10.00" lengthAdjust="spacingAndGlyphs">S1</text>
<text x="761.90" y="186.20" font-size="11.0" fill="#2c2c2c" textLength="7.20" lengthAdjust="spacingAndGlyphs">O</text>
<line x1="619.50" y1="189.00" x2="649.80" y2="189.00" stroke="#4a4a4a" stroke-width="1.35"/>
<line x1="661.40" y1="189.00" x2="691.40" y2="189.00" stroke="#4a4a4a" stroke-width="1.35"/>
<line x1="702.70" y1="189.00" x2="732.70" y2="189.00" stroke="#4a4a4a" stroke-width="1.35"/>
<line x1="744.10" y1="189.00" x2="774.30" y2="189.00" stroke="#4a4a4a" stroke-width="1.35"/>
<text x="626.60" y="202.20" font-size="10.4" fill="#2c2c2c" textLength="15.00" lengthAdjust="spacingAndGlyphs">WT</text>
<text x="661.10" y="202.20" font-size="11.2" fill="#1e1e1e" font-style="italic" stroke="#1e1e1e" stroke-width="0.1" textLength="20.00" lengthAdjust="spacingAndGlyphs">Tsc1</text>
<text x="681.90" y="199.40" font-size="6.6" fill="#333" textLength="9.00" lengthAdjust="spacingAndGlyphs">+/&#8211;</text>
<text x="704.20" y="202.20" font-size="11.2" fill="#1e1e1e" font-style="italic" stroke="#1e1e1e" stroke-width="0.1" textLength="20.70" lengthAdjust="spacingAndGlyphs">Tsc2</text>
<text x="725.90" y="199.40" font-size="6.6" fill="#333" textLength="8.70" lengthAdjust="spacingAndGlyphs">+/&#8211;</text>
<text x="744.10" y="202.20" font-size="11.2" fill="#1e1e1e" font-style="italic" stroke="#1e1e1e" stroke-width="0.1" textLength="23.10" lengthAdjust="spacingAndGlyphs">TscD</text>
<text x="767.40" y="199.40" font-size="6.6" fill="#333" textLength="8.60" lengthAdjust="spacingAndGlyphs">+/&#8211;</text>
<text x="612.55" y="214.50" font-size="10.2" text-anchor="middle" fill="#2c2c2c">n</text>
<text x="634.00" y="214.50" font-size="10.2" text-anchor="middle" fill="#2c2c2c">13</text>
<text x="678.30" y="214.50" font-size="10.2" text-anchor="middle" fill="#2c2c2c">17</text>
<text x="718.90" y="214.50" font-size="10.2" text-anchor="middle" fill="#2c2c2c">16</text>
<text x="760.10" y="214.50" font-size="10.2" text-anchor="middle" fill="#2c2c2c">16</text>
<text x="57.30" y="246.40" font-size="12.2" text-anchor="start" fill="#111" >E</text>
<text transform="translate(71.10,344.95) rotate(-90)" x="0" y="0" font-size="11.3" text-anchor="middle" fill="#1e1e1e" stroke="#1e1e1e" stroke-width="0.25" textLength="89.50" lengthAdjust="spacingAndGlyphs">Time exploring (s)</text>
<line x1="101.40" y1="277.10" x2="101.40" y2="416.90" stroke="#111" stroke-width="1.3"/>
<line x1="96.70" y1="416.30" x2="101.40" y2="416.30" stroke="#111" stroke-width="1.3"/>
<text x="95.30" y="419.70" font-size="9.75" text-anchor="end" fill="#383838" >0</text>
<line x1="96.70" y1="388.50" x2="101.40" y2="388.50" stroke="#111" stroke-width="1.3"/>
<text x="95.30" y="391.90" font-size="9.75" text-anchor="end" fill="#383838" >50</text>
<line x1="96.70" y1="360.90" x2="101.40" y2="360.90" stroke="#111" stroke-width="1.3"/>
<text x="95.30" y="364.30" font-size="9.75" text-anchor="end" fill="#383838" >100</text>
<line x1="96.70" y1="333.20" x2="101.40" y2="333.20" stroke="#111" stroke-width="1.3"/>
<text x="95.30" y="336.60" font-size="9.75" text-anchor="end" fill="#383838" >150</text>
<line x1="96.70" y1="305.50" x2="101.40" y2="305.50" stroke="#111" stroke-width="1.3"/>
<text x="95.30" y="308.90" font-size="9.75" text-anchor="end" fill="#383838" >200</text>
<line x1="96.70" y1="277.70" x2="101.40" y2="277.70" stroke="#111" stroke-width="1.3"/>
<text x="95.30" y="281.10" font-size="9.75" text-anchor="end" fill="#383838" >250</text>
<line x1="101.40" y1="416.30" x2="280.30" y2="416.30" stroke="#111" stroke-width="1.3"/>
<rect x="115.20" y="371.60" width="14.30" height="44.70" fill="#fff" stroke="#111" stroke-width="1.3"/>
<line x1="122.35" y1="371.60" x2="122.35" y2="365.50" stroke="#111" stroke-width="1.3"/>
<line x1="119.10" y1="365.50" x2="125.60" y2="365.50" stroke="#111" stroke-width="1.3"/>
<rect x="129.50" y="389.00" width="14.00" height="27.30" fill="#fff" stroke="#111" stroke-width="1.3"/>
<line x1="136.50" y1="389.00" x2="136.50" y2="385.70" stroke="#111" stroke-width="1.3"/>
<line x1="133.25" y1="385.70" x2="139.75" y2="385.70" stroke="#111" stroke-width="1.3"/>
<rect x="156.40" y="368.20" width="14.10" height="48.10" fill="#13aee6" stroke="#111" stroke-width="1.3"/>
<line x1="163.45" y1="368.20" x2="163.45" y2="363.40" stroke="#111" stroke-width="1.3"/>
<line x1="160.20" y1="363.40" x2="166.70" y2="363.40" stroke="#111" stroke-width="1.3"/>
<rect x="170.50" y="372.20" width="14.10" height="44.10" fill="#13aee6" stroke="#111" stroke-width="1.3"/>
<line x1="177.55" y1="372.20" x2="177.55" y2="365.60" stroke="#111" stroke-width="1.3"/>
<line x1="174.30" y1="365.60" x2="180.80" y2="365.60" stroke="#111" stroke-width="1.3"/>
<rect x="199.20" y="375.60" width="14.20" height="40.70" fill="#ea4b94" stroke="#111" stroke-width="1.3"/>
<line x1="206.30" y1="375.60" x2="206.30" y2="369.90" stroke="#111" stroke-width="1.3"/>
<line x1="203.05" y1="369.90" x2="209.55" y2="369.90" stroke="#111" stroke-width="1.3"/>
<rect x="213.40" y="363.90" width="14.10" height="52.40" fill="#ea4b94" stroke="#111" stroke-width="1.3"/>
<line x1="220.45" y1="363.90" x2="220.45" y2="356.30" stroke="#111" stroke-width="1.3"/>
<line x1="217.20" y1="356.30" x2="223.70" y2="356.30" stroke="#111" stroke-width="1.3"/>
<rect x="242.30" y="380.20" width="14.20" height="36.10" fill="#4a3c96" stroke="#111" stroke-width="1.3"/>
<line x1="249.40" y1="380.20" x2="249.40" y2="375.80" stroke="#111" stroke-width="1.3"/>
<line x1="246.15" y1="375.80" x2="252.65" y2="375.80" stroke="#111" stroke-width="1.3"/>
<rect x="256.50" y="381.20" width="14.20" height="35.10" fill="#4a3c96" stroke="#111" stroke-width="1.3"/>
<line x1="263.60" y1="381.20" x2="263.60" y2="377.60" stroke="#111" stroke-width="1.3"/>
<line x1="260.35" y1="377.60" x2="266.85" y2="377.60" stroke="#111" stroke-width="1.3"/>
<circle cx="122.00" cy="330.40" r="1.45" fill="#111"/>
<circle cx="122.00" cy="334.20" r="1.45" fill="#111"/>
<circle cx="122.00" cy="347.90" r="1.45" fill="#111"/>
<circle cx="122.40" cy="372.80" r="1.45" fill="#111"/>
<circle cx="119.00" cy="376.10" r="1.45" fill="#111"/>
<circle cx="122.40" cy="376.40" r="1.45" fill="#111"/>
<circle cx="125.80" cy="374.90" r="1.45" fill="#111"/>
<circle cx="122.40" cy="378.80" r="1.45" fill="#111"/>
<circle cx="119.00" cy="384.80" r="1.45" fill="#111"/>
<circle cx="122.40" cy="389.30" r="1.45" fill="#111"/>
<circle cx="122.40" cy="399.90" r="1.45" fill="#111"/>
<circle cx="122.40" cy="407.30" r="1.45" fill="#111"/>
<circle cx="136.20" cy="373.70" r="1.45" fill="#111"/>
<circle cx="133.00" cy="376.80" r="1.45" fill="#111"/>
<circle cx="136.20" cy="378.00" r="1.45" fill="#111"/>
<circle cx="139.50" cy="375.80" r="1.45" fill="#111"/>
<circle cx="133.00" cy="383.00" r="1.45" fill="#111"/>
<circle cx="136.20" cy="382.40" r="1.45" fill="#111"/>
<circle cx="139.50" cy="383.00" r="1.45" fill="#111"/>
<circle cx="133.00" cy="398.70" r="1.45" fill="#111"/>
<circle cx="136.20" cy="401.70" r="1.45" fill="#111"/>
<circle cx="139.50" cy="400.50" r="1.45" fill="#111"/>
<circle cx="133.00" cy="406.10" r="1.45" fill="#111"/>
<circle cx="136.20" cy="409.20" r="1.45" fill="#111"/>
<circle cx="163.50" cy="320.30" r="1.45" fill="#111"/>
<circle cx="163.50" cy="328.50" r="1.45" fill="#111"/>
<circle cx="160.20" cy="342.90" r="1.45" fill="#111"/>
<circle cx="167.10" cy="344.70" r="1.45" fill="#111"/>
<circle cx="163.50" cy="348.40" r="1.45" fill="#111"/>
<circle cx="160.20" cy="365.00" r="1.45" fill="#111"/>
<circle cx="163.50" cy="369.80" r="1.45" fill="#111"/>
<circle cx="163.50" cy="376.10" r="1.45" fill="#111"/>
<circle cx="160.20" cy="379.90" r="1.45" fill="#111"/>
<circle cx="167.10" cy="378.70" r="1.45" fill="#111"/>
<circle cx="163.50" cy="383.30" r="1.45" fill="#111"/>
<circle cx="167.10" cy="382.30" r="1.45" fill="#111"/>
<circle cx="160.20" cy="385.40" r="1.45" fill="#111"/>
<circle cx="167.10" cy="385.90" r="1.45" fill="#111"/>
<circle cx="163.50" cy="389.30" r="1.45" fill="#111"/>
<circle cx="160.20" cy="392.90" r="1.45" fill="#111"/>
<circle cx="163.60" cy="395.60" r="1.45" fill="#111"/>
<circle cx="177.40" cy="292.20" r="1.45" fill="#111"/>
<circle cx="177.40" cy="319.40" r="1.45" fill="#111"/>
<circle cx="177.40" cy="352.30" r="1.45" fill="#111"/>
<circle cx="181.00" cy="369.40" r="1.45" fill="#111"/>
<circle cx="174.00" cy="374.90" r="1.45" fill="#111"/>
<circle cx="177.40" cy="374.30" r="1.45" fill="#111"/>
<circle cx="177.40" cy="379.90" r="1.45" fill="#111"/>
<circle cx="181.00" cy="381.10" r="1.45" fill="#111"/>
<circle cx="177.40" cy="386.30" r="1.45" fill="#111"/>
<circle cx="174.00" cy="388.10" r="1.45" fill="#111"/>
<circle cx="177.40" cy="392.30" r="1.45" fill="#111"/>
<circle cx="173.90" cy="403.00" r="1.45" fill="#111"/>
<circle cx="177.40" cy="404.70" r="1.45" fill="#111"/>
<circle cx="180.80" cy="401.70" r="1.45" fill="#111"/>
<circle cx="206.40" cy="333.00" r="1.45" fill="#111"/>
<circle cx="203.10" cy="357.40" r="1.45" fill="#111"/>
<circle cx="206.40" cy="358.30" r="1.45" fill="#111"/>
<circle cx="209.80" cy="356.50" r="1.45" fill="#111"/>
<circle cx="206.40" cy="361.90" r="1.45" fill="#111"/>
<circle cx="203.10" cy="365.80" r="1.45" fill="#111"/>
<circle cx="206.40" cy="365.80" r="1.45" fill="#111"/>
<circle cx="209.80" cy="365.80" r="1.45" fill="#111"/>
<circle cx="203.10" cy="374.60" r="1.45" fill="#111"/>
<circle cx="206.40" cy="376.40" r="1.45" fill="#111"/>
<circle cx="206.40" cy="384.80" r="1.45" fill="#111"/>
<circle cx="203.10" cy="396.30" r="1.45" fill="#111"/>
<circle cx="209.80" cy="394.10" r="1.45" fill="#111"/>
<circle cx="206.40" cy="399.60" r="1.45" fill="#111"/>
<circle cx="206.40" cy="409.20" r="1.45" fill="#111"/>
<circle cx="206.40" cy="416.40" r="1.45" fill="#111"/>
<circle cx="220.40" cy="304.40" r="1.45" fill="#111"/>
<circle cx="220.20" cy="323.00" r="1.45" fill="#111"/>
<circle cx="216.60" cy="339.00" r="1.45" fill="#111"/>
<circle cx="220.20" cy="340.80" r="1.45" fill="#111"/>
<circle cx="220.20" cy="350.20" r="1.45" fill="#111"/>
<circle cx="223.90" cy="364.30" r="1.45" fill="#111"/>
<circle cx="220.20" cy="366.70" r="1.45" fill="#111"/>
<circle cx="216.60" cy="369.10" r="1.45" fill="#111"/>
<circle cx="223.90" cy="370.90" r="1.45" fill="#111"/>
<circle cx="220.20" cy="373.20" r="1.45" fill="#111"/>
<circle cx="220.20" cy="379.70" r="1.45" fill="#111"/>
<circle cx="220.20" cy="388.10" r="1.45" fill="#111"/>
<circle cx="220.20" cy="394.10" r="1.45" fill="#111"/>
<circle cx="216.60" cy="399.30" r="1.45" fill="#111"/>
<circle cx="220.20" cy="401.10" r="1.45" fill="#111"/>
<circle cx="249.50" cy="342.00" r="1.45" fill="#111"/>
<circle cx="245.90" cy="363.10" r="1.45" fill="#111"/>
<circle cx="249.50" cy="368.20" r="1.45" fill="#111"/>
<circle cx="252.80" cy="371.80" r="1.45" fill="#111"/>
<circle cx="245.90" cy="375.40" r="1.45" fill="#111"/>
<circle cx="249.50" cy="376.30" r="1.45" fill="#111"/>
<circle cx="252.30" cy="372.00" r="1.45" fill="#111"/>
<circle cx="252.80" cy="377.80" r="1.45" fill="#111"/>
<circle cx="246.00" cy="382.50" r="1.45" fill="#111"/>
<circle cx="249.10" cy="383.00" r="1.45" fill="#111"/>
<circle cx="252.80" cy="381.20" r="1.45" fill="#111"/>
<circle cx="246.00" cy="388.60" r="1.45" fill="#111"/>
<circle cx="249.10" cy="390.70" r="1.45" fill="#111"/>
<circle cx="252.80" cy="388.60" r="1.45" fill="#111"/>
<circle cx="249.10" cy="400.40" r="1.45" fill="#111"/>
<circle cx="249.10" cy="417.00" r="1.45" fill="#111"/>
<circle cx="263.40" cy="347.10" r="1.45" fill="#111"/>
<circle cx="263.40" cy="361.00" r="1.45" fill="#111"/>
<circle cx="260.00" cy="364.30" r="1.45" fill="#111"/>
<circle cx="263.40" cy="367.50" r="1.45" fill="#111"/>
<circle cx="267.00" cy="367.00" r="1.45" fill="#111"/>
<circle cx="260.00" cy="378.30" r="1.45" fill="#111"/>
<circle cx="263.10" cy="379.10" r="1.45" fill="#111"/>
<circle cx="266.50" cy="379.10" r="1.45" fill="#111"/>
<circle cx="263.10" cy="384.40" r="1.45" fill="#111"/>
<circle cx="266.50" cy="385.10" r="1.45" fill="#111"/>
<circle cx="260.00" cy="386.70" r="1.45" fill="#111"/>
<circle cx="263.10" cy="389.30" r="1.45" fill="#111"/>
<circle cx="266.50" cy="389.00" r="1.45" fill="#111"/>
<circle cx="260.00" cy="400.90" r="1.45" fill="#111"/>
<circle cx="263.10" cy="400.90" r="1.45" fill="#111"/>
<circle cx="263.10" cy="415.10" r="1.45" fill="#111"/>
<polyline points="122.20,276.20 122.20,269.60 136.40,269.60 136.40,276.20" fill="none" stroke="#5a5a5a" stroke-width="1.15"/>
<text x="129.30" y="270.00" font-size="9.0" text-anchor="middle" fill="#111" stroke="#111" stroke-width="0.35">**</text>
<polyline points="163.50,276.20 163.50,269.60 177.80,269.60 177.80,276.20" fill="none" stroke="#5a5a5a" stroke-width="1.15"/>
<text x="170.65" y="267.00" font-size="9.8" text-anchor="middle" fill="#2c2c2c" >ns</text>
<polyline points="205.40,276.20 205.40,269.60 219.80,269.60 219.80,276.20" fill="none" stroke="#5a5a5a" stroke-width="1.15"/>
<text x="212.60" y="267.00" font-size="9.8" text-anchor="middle" fill="#2c2c2c" >ns</text>
<polyline points="249.20,276.20 249.20,269.60 263.60,269.60 263.60,276.20" fill="none" stroke="#5a5a5a" stroke-width="1.15"/>
<text x="256.40" y="267.00" font-size="9.8" text-anchor="middle" fill="#2c2c2c" >ns</text>
<text x="116.40" y="428.50" font-size="11.0" fill="#2c2c2c" textLength="11.40" lengthAdjust="spacingAndGlyphs">S2</text>
<text x="130.00" y="428.50" font-size="11.0" fill="#2c2c2c" textLength="10.90" lengthAdjust="spacingAndGlyphs">S1</text>
<text x="159.50" y="428.50" font-size="11.0" fill="#2c2c2c" textLength="11.40" lengthAdjust="spacingAndGlyphs">S2</text>
<text x="173.10" y="428.50" font-size="11.0" fill="#2c2c2c" textLength="10.90" lengthAdjust="spacingAndGlyphs">S1</text>
<text x="201.15" y="428.50" font-size="11.0" fill="#2c2c2c" textLength="11.40" lengthAdjust="spacingAndGlyphs">S2</text>
<text x="214.75" y="428.50" font-size="11.0" fill="#2c2c2c" textLength="10.90" lengthAdjust="spacingAndGlyphs">S1</text>
<text x="243.75" y="428.50" font-size="11.0" fill="#2c2c2c" textLength="11.40" lengthAdjust="spacingAndGlyphs">S2</text>
<text x="257.35" y="428.50" font-size="11.0" fill="#2c2c2c" textLength="10.90" lengthAdjust="spacingAndGlyphs">S1</text>
<line x1="114.40" y1="432.00" x2="144.40" y2="432.00" stroke="#4a4a4a" stroke-width="1.35"/>
<line x1="155.60" y1="432.00" x2="185.30" y2="432.00" stroke="#4a4a4a" stroke-width="1.35"/>
<line x1="198.90" y1="432.00" x2="228.90" y2="432.00" stroke="#4a4a4a" stroke-width="1.35"/>
<line x1="242.20" y1="432.00" x2="272.00" y2="432.00" stroke="#4a4a4a" stroke-width="1.35"/>
<text x="123.40" y="443.00" font-size="10.4" fill="#2c2c2c" textLength="15.00" lengthAdjust="spacingAndGlyphs">WT</text>
<text x="158.80" y="443.00" font-size="11.2" fill="#1e1e1e" font-style="italic" stroke="#1e1e1e" stroke-width="0.1" textLength="20.00" lengthAdjust="spacingAndGlyphs">Tsc1</text>
<text x="179.60" y="440.20" font-size="6.6" fill="#333" textLength="9.00" lengthAdjust="spacingAndGlyphs">+/&#8211;</text>
<text x="201.20" y="443.00" font-size="11.2" fill="#1e1e1e" font-style="italic" stroke="#1e1e1e" stroke-width="0.1" textLength="20.70" lengthAdjust="spacingAndGlyphs">Tsc2</text>
<text x="222.90" y="440.20" font-size="6.6" fill="#333" textLength="8.70" lengthAdjust="spacingAndGlyphs">+/&#8211;</text>
<text x="242.90" y="443.00" font-size="11.2" fill="#1e1e1e" font-style="italic" stroke="#1e1e1e" stroke-width="0.1" textLength="23.10" lengthAdjust="spacingAndGlyphs">TscD</text>
<text x="266.20" y="440.20" font-size="6.6" fill="#333" textLength="8.60" lengthAdjust="spacingAndGlyphs">+/&#8211;</text>
<text x="109.10" y="455.70" font-size="10.2" text-anchor="middle" fill="#2c2c2c">n</text>
<text x="128.30" y="455.70" font-size="10.2" text-anchor="middle" fill="#2c2c2c">13</text>
<text x="171.70" y="455.70" font-size="10.2" text-anchor="middle" fill="#2c2c2c">17</text>
<text x="212.10" y="455.70" font-size="10.2" text-anchor="middle" fill="#2c2c2c">16</text>
<text x="256.40" y="455.70" font-size="10.2" text-anchor="middle" fill="#2c2c2c">16</text>
<text x="293.50" y="246.40" font-size="12.2" text-anchor="start" fill="#111" >F</text>
<text transform="translate(306.40,348.70) rotate(-90)" x="0" y="0" font-size="11.3" text-anchor="middle" fill="#1e1e1e" stroke="#1e1e1e" stroke-width="0.25" textLength="89.80" lengthAdjust="spacingAndGlyphs">Time exploring (s)</text>
<line x1="337.00" y1="278.00" x2="337.00" y2="416.80" stroke="#111" stroke-width="1.3"/>
<line x1="332.30" y1="416.20" x2="337.00" y2="416.20" stroke="#111" stroke-width="1.3"/>
<text x="330.90" y="419.60" font-size="9.75" text-anchor="end" fill="#383838" >0</text>
<line x1="332.30" y1="370.30" x2="337.00" y2="370.30" stroke="#111" stroke-width="1.3"/>
<text x="330.90" y="373.70" font-size="9.75" text-anchor="end" fill="#383838" >100</text>
<line x1="332.30" y1="324.50" x2="337.00" y2="324.50" stroke="#111" stroke-width="1.3"/>
<text x="330.90" y="327.90" font-size="9.75" text-anchor="end" fill="#383838" >200</text>
<line x1="332.30" y1="278.60" x2="337.00" y2="278.60" stroke="#111" stroke-width="1.3"/>
<text x="330.90" y="282.00" font-size="9.75" text-anchor="end" fill="#383838" >300</text>
<line x1="337.00" y1="416.20" x2="517.40" y2="416.20" stroke="#111" stroke-width="1.3"/>
<rect x="350.20" y="352.30" width="14.50" height="63.90" fill="#fff" stroke="#111" stroke-width="1.3"/>
<line x1="357.45" y1="352.30" x2="357.45" y2="346.30" stroke="#111" stroke-width="1.3"/>
<line x1="354.20" y1="346.30" x2="360.70" y2="346.30" stroke="#111" stroke-width="1.3"/>
<rect x="364.70" y="390.80" width="13.90" height="25.40" fill="#fff" stroke="#111" stroke-width="1.3"/>
<line x1="371.65" y1="390.80" x2="371.65" y2="388.30" stroke="#111" stroke-width="1.3"/>
<line x1="368.40" y1="388.30" x2="374.90" y2="388.30" stroke="#111" stroke-width="1.3"/>
<rect x="393.60" y="357.70" width="13.80" height="58.50" fill="#13aee6" stroke="#111" stroke-width="1.3"/>
<line x1="400.50" y1="357.70" x2="400.50" y2="351.70" stroke="#111" stroke-width="1.3"/>
<line x1="397.25" y1="351.70" x2="403.75" y2="351.70" stroke="#111" stroke-width="1.3"/>
<rect x="407.40" y="377.00" width="14.50" height="39.20" fill="#13aee6" stroke="#111" stroke-width="1.3"/>
<line x1="414.65" y1="377.00" x2="414.65" y2="372.00" stroke="#111" stroke-width="1.3"/>
<line x1="411.40" y1="372.00" x2="417.90" y2="372.00" stroke="#111" stroke-width="1.3"/>
<rect x="436.30" y="372.20" width="13.90" height="44.00" fill="#ea4b94" stroke="#111" stroke-width="1.3"/>
<line x1="443.25" y1="372.20" x2="443.25" y2="366.60" stroke="#111" stroke-width="1.3"/>
<line x1="440.00" y1="366.60" x2="446.50" y2="366.60" stroke="#111" stroke-width="1.3"/>
<rect x="450.20" y="369.60" width="14.70" height="46.60" fill="#ea4b94" stroke="#111" stroke-width="1.3"/>
<line x1="457.55" y1="369.60" x2="457.55" y2="363.10" stroke="#111" stroke-width="1.3"/>
<line x1="454.30" y1="363.10" x2="460.80" y2="363.10" stroke="#111" stroke-width="1.3"/>
<rect x="479.40" y="383.40" width="14.20" height="32.80" fill="#4a3c96" stroke="#111" stroke-width="1.3"/>
<line x1="486.50" y1="383.40" x2="486.50" y2="379.40" stroke="#111" stroke-width="1.3"/>
<line x1="483.25" y1="379.40" x2="489.75" y2="379.40" stroke="#111" stroke-width="1.3"/>
<rect x="493.60" y="385.80" width="13.70" height="30.40" fill="#4a3c96" stroke="#111" stroke-width="1.3"/>
<line x1="500.45" y1="385.80" x2="500.45" y2="382.10" stroke="#111" stroke-width="1.3"/>
<line x1="497.20" y1="382.10" x2="503.70" y2="382.10" stroke="#111" stroke-width="1.3"/>
<circle cx="357.40" cy="298.50" r="1.45" fill="#111"/>
<circle cx="357.50" cy="322.20" r="1.45" fill="#111"/>
<circle cx="357.50" cy="335.10" r="1.45" fill="#111"/>
<circle cx="353.90" cy="344.70" r="1.45" fill="#111"/>
<circle cx="357.50" cy="346.20" r="1.45" fill="#111"/>
<circle cx="360.20" cy="346.80" r="1.45" fill="#111"/>
<circle cx="357.50" cy="349.90" r="1.45" fill="#111"/>
<circle cx="353.90" cy="352.90" r="1.45" fill="#111"/>
<circle cx="357.50" cy="353.50" r="1.45" fill="#111"/>
<circle cx="360.80" cy="352.90" r="1.45" fill="#111"/>
<circle cx="360.80" cy="359.80" r="1.45" fill="#111"/>
<circle cx="357.50" cy="363.40" r="1.45" fill="#111"/>
<circle cx="353.90" cy="370.30" r="1.45" fill="#111"/>
<circle cx="357.50" cy="370.90" r="1.45" fill="#111"/>
<circle cx="357.50" cy="376.80" r="1.45" fill="#111"/>
<circle cx="357.50" cy="389.60" r="1.45" fill="#111"/>
<circle cx="368.00" cy="375.60" r="1.45" fill="#111"/>
<circle cx="371.40" cy="376.80" r="1.45" fill="#111"/>
<circle cx="375.00" cy="373.70" r="1.45" fill="#111"/>
<circle cx="375.00" cy="380.90" r="1.45" fill="#111"/>
<circle cx="371.40" cy="383.60" r="1.45" fill="#111"/>
<circle cx="368.00" cy="389.60" r="1.45" fill="#111"/>
<circle cx="371.40" cy="389.60" r="1.45" fill="#111"/>
<circle cx="375.00" cy="390.80" r="1.45" fill="#111"/>
<circle cx="368.00" cy="392.60" r="1.45" fill="#111"/>
<circle cx="371.40" cy="393.60" r="1.45" fill="#111"/>
<circle cx="368.00" cy="400.80" r="1.45" fill="#111"/>
<circle cx="371.40" cy="400.80" r="1.45" fill="#111"/>
<circle cx="375.00" cy="400.50" r="1.45" fill="#111"/>
<circle cx="368.00" cy="404.10" r="1.45" fill="#111"/>
<circle cx="371.40" cy="402.50" r="1.45" fill="#111"/>
<circle cx="371.40" cy="407.70" r="1.45" fill="#111"/>
<circle cx="400.50" cy="282.50" r="1.45" fill="#111"/>
<circle cx="400.50" cy="333.60" r="1.45" fill="#111"/>
<circle cx="403.80" cy="337.00" r="1.45" fill="#111"/>
<circle cx="396.90" cy="340.20" r="1.45" fill="#111"/>
<circle cx="400.50" cy="341.10" r="1.45" fill="#111"/>
<circle cx="396.90" cy="346.60" r="1.45" fill="#111"/>
<circle cx="400.50" cy="346.60" r="1.45" fill="#111"/>
<circle cx="403.80" cy="346.60" r="1.45" fill="#111"/>
<circle cx="400.50" cy="349.00" r="1.45" fill="#111"/>
<circle cx="396.90" cy="363.90" r="1.45" fill="#111"/>
<circle cx="403.80" cy="366.10" r="1.45" fill="#111"/>
<circle cx="400.50" cy="367.90" r="1.45" fill="#111"/>
<circle cx="396.90" cy="371.50" r="1.45" fill="#111"/>
<circle cx="396.90" cy="372.20" r="1.45" fill="#111"/>
<circle cx="403.80" cy="374.00" r="1.45" fill="#111"/>
<circle cx="400.50" cy="375.60" r="1.45" fill="#111"/>
<circle cx="396.90" cy="380.90" r="1.45" fill="#111"/>
<circle cx="400.50" cy="383.60" r="1.45" fill="#111"/>
<circle cx="403.80" cy="383.30" r="1.45" fill="#111"/>
<circle cx="396.90" cy="387.20" r="1.45" fill="#111"/>
<circle cx="400.50" cy="390.80" r="1.45" fill="#111"/>
<circle cx="414.40" cy="341.10" r="1.45" fill="#111"/>
<circle cx="414.40" cy="350.70" r="1.45" fill="#111"/>
<circle cx="411.00" cy="355.00" r="1.45" fill="#111"/>
<circle cx="414.40" cy="357.40" r="1.45" fill="#111"/>
<circle cx="418.00" cy="360.70" r="1.45" fill="#111"/>
<circle cx="414.40" cy="363.10" r="1.45" fill="#111"/>
<circle cx="411.00" cy="369.10" r="1.45" fill="#111"/>
<circle cx="418.00" cy="369.10" r="1.45" fill="#111"/>
<circle cx="414.40" cy="371.80" r="1.45" fill="#111"/>
<circle cx="414.40" cy="380.00" r="1.45" fill="#111"/>
<circle cx="411.00" cy="385.70" r="1.45" fill="#111"/>
<circle cx="414.40" cy="385.20" r="1.45" fill="#111"/>
<circle cx="411.00" cy="390.00" r="1.45" fill="#111"/>
<circle cx="418.00" cy="390.00" r="1.45" fill="#111"/>
<circle cx="414.40" cy="391.70" r="1.45" fill="#111"/>
<circle cx="411.00" cy="393.20" r="1.45" fill="#111"/>
<circle cx="414.40" cy="393.80" r="1.45" fill="#111"/>
<circle cx="418.00" cy="392.90" r="1.45" fill="#111"/>
<circle cx="414.40" cy="399.90" r="1.45" fill="#111"/>
<circle cx="414.40" cy="409.70" r="1.45" fill="#111"/>
<circle cx="443.50" cy="339.00" r="1.45" fill="#111"/>
<circle cx="439.90" cy="347.10" r="1.45" fill="#111"/>
<circle cx="443.50" cy="347.40" r="1.45" fill="#111"/>
<circle cx="446.80" cy="347.10" r="1.45" fill="#111"/>
<circle cx="443.50" cy="354.30" r="1.45" fill="#111"/>
<circle cx="443.50" cy="365.50" r="1.45" fill="#111"/>
<circle cx="439.90" cy="366.70" r="1.45" fill="#111"/>
<circle cx="445.00" cy="367.30" r="1.45" fill="#111"/>
<circle cx="439.90" cy="370.30" r="1.45" fill="#111"/>
<circle cx="443.50" cy="377.00" r="1.45" fill="#111"/>
<circle cx="443.50" cy="379.20" r="1.45" fill="#111"/>
<circle cx="446.80" cy="380.00" r="1.45" fill="#111"/>
<circle cx="439.90" cy="382.80" r="1.45" fill="#111"/>
<circle cx="443.50" cy="383.00" r="1.45" fill="#111"/>
<circle cx="446.80" cy="382.80" r="1.45" fill="#111"/>
<circle cx="439.90" cy="386.60" r="1.45" fill="#111"/>
<circle cx="443.50" cy="388.80" r="1.45" fill="#111"/>
<circle cx="446.80" cy="387.20" r="1.45" fill="#111"/>
<circle cx="439.90" cy="396.00" r="1.45" fill="#111"/>
<circle cx="443.50" cy="396.50" r="1.45" fill="#111"/>
<circle cx="457.30" cy="310.00" r="1.45" fill="#111"/>
<circle cx="457.30" cy="315.30" r="1.45" fill="#111"/>
<circle cx="457.40" cy="323.00" r="1.45" fill="#111"/>
<circle cx="454.00" cy="348.00" r="1.45" fill="#111"/>
<circle cx="457.40" cy="350.50" r="1.45" fill="#111"/>
<circle cx="457.40" cy="356.20" r="1.45" fill="#111"/>
<circle cx="461.00" cy="362.20" r="1.45" fill="#111"/>
<circle cx="457.40" cy="374.60" r="1.45" fill="#111"/>
<circle cx="457.40" cy="382.10" r="1.45" fill="#111"/>
<circle cx="461.00" cy="382.80" r="1.45" fill="#111"/>
<circle cx="454.00" cy="384.50" r="1.45" fill="#111"/>
<circle cx="457.40" cy="386.00" r="1.45" fill="#111"/>
<circle cx="457.40" cy="390.20" r="1.45" fill="#111"/>
<circle cx="461.00" cy="390.00" r="1.45" fill="#111"/>
<circle cx="454.00" cy="394.10" r="1.45" fill="#111"/>
<circle cx="457.40" cy="394.10" r="1.45" fill="#111"/>
<circle cx="461.00" cy="394.10" r="1.45" fill="#111"/>
<circle cx="457.40" cy="397.70" r="1.45" fill="#111"/>
<circle cx="457.40" cy="403.20" r="1.45" fill="#111"/>
<circle cx="486.50" cy="346.40" r="1.45" fill="#111"/>
<circle cx="486.50" cy="355.70" r="1.45" fill="#111"/>
<circle cx="486.50" cy="362.90" r="1.45" fill="#111"/>
<circle cx="486.50" cy="368.70" r="1.45" fill="#111"/>
<circle cx="482.90" cy="370.50" r="1.45" fill="#111"/>
<circle cx="486.50" cy="370.80" r="1.45" fill="#111"/>
<circle cx="489.80" cy="370.80" r="1.45" fill="#111"/>
<circle cx="486.00" cy="388.80" r="1.45" fill="#111"/>
<circle cx="489.70" cy="389.80" r="1.45" fill="#111"/>
<circle cx="482.80" cy="391.90" r="1.45" fill="#111"/>
<circle cx="486.00" cy="393.50" r="1.45" fill="#111"/>
<circle cx="482.80" cy="398.60" r="1.45" fill="#111"/>
<circle cx="486.00" cy="398.80" r="1.45" fill="#111"/>
<circle cx="489.70" cy="398.10" r="1.45" fill="#111"/>
<circle cx="486.00" cy="402.10" r="1.45" fill="#111"/>
<circle cx="489.70" cy="402.80" r="1.45" fill="#111"/>
<circle cx="482.80" cy="403.70" r="1.45" fill="#111"/>
<circle cx="486.00" cy="404.30" r="1.45" fill="#111"/>
<circle cx="500.40" cy="341.60" r="1.45" fill="#111"/>
<circle cx="500.40" cy="362.90" r="1.45" fill="#111"/>
<circle cx="497.00" cy="370.10" r="1.45" fill="#111"/>
<circle cx="500.40" cy="369.90" r="1.45" fill="#111"/>
<circle cx="504.00" cy="373.20" r="1.45" fill="#111"/>
<circle cx="500.40" cy="374.10" r="1.45" fill="#111"/>
<circle cx="497.00" cy="377.70" r="1.45" fill="#111"/>
<circle cx="504.00" cy="378.30" r="1.45" fill="#111"/>
<circle cx="499.80" cy="375.20" r="1.45" fill="#111"/>
<circle cx="499.80" cy="391.50" r="1.45" fill="#111"/>
<circle cx="496.80" cy="395.50" r="1.45" fill="#111"/>
<circle cx="499.80" cy="396.90" r="1.45" fill="#111"/>
<circle cx="502.50" cy="397.40" r="1.45" fill="#111"/>
<circle cx="505.50" cy="398.80" r="1.45" fill="#111"/>
<circle cx="496.80" cy="398.80" r="1.45" fill="#111"/>
<circle cx="499.80" cy="401.60" r="1.45" fill="#111"/>
<circle cx="502.50" cy="401.10" r="1.45" fill="#111"/>
<circle cx="505.50" cy="403.10" r="1.45" fill="#111"/>
<circle cx="496.80" cy="401.80" r="1.45" fill="#111"/>
<circle cx="499.80" cy="406.30" r="1.45" fill="#111"/>
<polyline points="357.40,276.20 357.40,269.60 371.60,269.60 371.60,276.20" fill="none" stroke="#5a5a5a" stroke-width="1.15"/>
<text x="364.50" y="269.60" font-size="9.0" text-anchor="middle" fill="#111" stroke="#111" stroke-width="0.35">***</text>
<polyline points="400.50,276.20 400.50,269.60 414.20,269.60 414.20,276.20" fill="none" stroke="#5a5a5a" stroke-width="1.15"/>
<text x="407.35" y="269.60" font-size="9.0" text-anchor="middle" fill="#111" stroke="#111" stroke-width="0.35">***</text>
<polyline points="444.10,276.20 444.10,269.60 458.70,269.60 458.70,276.20" fill="none" stroke="#5a5a5a" stroke-width="1.15"/>
<text x="451.40" y="266.60" font-size="9.8" text-anchor="middle" fill="#2c2c2c" >ns</text>
<polyline points="486.30,276.20 486.30,269.60 501.60,269.60 501.60,276.20" fill="none" stroke="#5a5a5a" stroke-width="1.15"/>
<text x="493.95" y="266.60" font-size="9.8" text-anchor="middle" fill="#2c2c2c" >ns</text>
<text x="351.80" y="428.50" font-size="11.0" fill="#2c2c2c" textLength="11.00" lengthAdjust="spacingAndGlyphs">S3</text>
<text x="368.10" y="428.50" font-size="11.0" fill="#2c2c2c" textLength="7.50" lengthAdjust="spacingAndGlyphs">C</text>
<text x="395.25" y="428.50" font-size="11.0" fill="#2c2c2c" textLength="11.00" lengthAdjust="spacingAndGlyphs">S3</text>
<text x="411.55" y="428.50" font-size="11.0" fill="#2c2c2c" textLength="7.50" lengthAdjust="spacingAndGlyphs">C</text>
<text x="438.25" y="428.50" font-size="11.0" fill="#2c2c2c" textLength="11.00" lengthAdjust="spacingAndGlyphs">S3</text>
<text x="454.55" y="428.50" font-size="11.0" fill="#2c2c2c" textLength="7.50" lengthAdjust="spacingAndGlyphs">C</text>
<text x="480.25" y="428.50" font-size="11.0" fill="#2c2c2c" textLength="11.00" lengthAdjust="spacingAndGlyphs">S3</text>
<text x="496.55" y="428.50" font-size="11.0" fill="#2c2c2c" textLength="7.50" lengthAdjust="spacingAndGlyphs">C</text>
<line x1="349.40" y1="432.80" x2="379.80" y2="432.80" stroke="#4a4a4a" stroke-width="1.35"/>
<line x1="391.90" y1="432.80" x2="422.20" y2="432.80" stroke="#4a4a4a" stroke-width="1.35"/>
<line x1="434.40" y1="432.80" x2="464.70" y2="432.80" stroke="#4a4a4a" stroke-width="1.35"/>
<line x1="476.80" y1="432.80" x2="507.20" y2="432.80" stroke="#4a4a4a" stroke-width="1.35"/>
<text x="356.90" y="443.50" font-size="10.4" fill="#2c2c2c" textLength="15.00" lengthAdjust="spacingAndGlyphs">WT</text>
<text x="395.50" y="443.50" font-size="11.2" fill="#1e1e1e" font-style="italic" stroke="#1e1e1e" stroke-width="0.1" textLength="20.00" lengthAdjust="spacingAndGlyphs">Tsc1</text>
<text x="416.30" y="440.70" font-size="6.6" fill="#333" textLength="9.00" lengthAdjust="spacingAndGlyphs">+/&#8211;</text>
<text x="438.20" y="443.50" font-size="11.2" fill="#1e1e1e" font-style="italic" stroke="#1e1e1e" stroke-width="0.1" textLength="20.70" lengthAdjust="spacingAndGlyphs">Tsc2</text>
<text x="459.90" y="440.70" font-size="6.6" fill="#333" textLength="8.70" lengthAdjust="spacingAndGlyphs">+/&#8211;</text>
<text x="480.50" y="443.50" font-size="11.2" fill="#1e1e1e" font-style="italic" stroke="#1e1e1e" stroke-width="0.1" textLength="23.10" lengthAdjust="spacingAndGlyphs">TscD</text>
<text x="503.80" y="440.70" font-size="6.6" fill="#333" textLength="8.60" lengthAdjust="spacingAndGlyphs">+/&#8211;</text>
<text x="345.65" y="455.60" font-size="10.2" text-anchor="middle" fill="#2c2c2c">n</text>
<text x="364.20" y="455.60" font-size="10.2" text-anchor="middle" fill="#2c2c2c">16</text>
<text x="407.90" y="455.60" font-size="10.2" text-anchor="middle" fill="#2c2c2c">20</text>
<text x="451.10" y="455.60" font-size="10.2" text-anchor="middle" fill="#2c2c2c">20</text>
<text x="494.20" y="455.60" font-size="10.2" text-anchor="middle" fill="#2c2c2c">20</text>
<text x="531.80" y="246.40" font-size="12.2" text-anchor="start" fill="#111" >G</text>
<text transform="translate(548.10,348.65) rotate(-90)" x="0" y="0" font-size="11.3" text-anchor="middle" fill="#1e1e1e" stroke="#1e1e1e" stroke-width="0.25" textLength="150.50" lengthAdjust="spacingAndGlyphs">Approach avoidance score (s)</text>
<line x1="581.00" y1="277.70" x2="581.00" y2="417.50" stroke="#111" stroke-width="1.6"/>
<line x1="576.30" y1="416.90" x2="581.00" y2="416.90" stroke="#111" stroke-width="1.3"/>
<text x="574.90" y="420.30" font-size="9.75" text-anchor="end" fill="#383838" >-200</text>
<line x1="576.30" y1="382.30" x2="581.00" y2="382.30" stroke="#111" stroke-width="1.3"/>
<text x="574.90" y="385.70" font-size="9.75" text-anchor="end" fill="#383838" >-100</text>
<line x1="576.30" y1="347.50" x2="581.00" y2="347.50" stroke="#111" stroke-width="1.3"/>
<text x="574.90" y="350.90" font-size="9.75" text-anchor="end" fill="#383838" >0</text>
<line x1="576.30" y1="313.00" x2="581.00" y2="313.00" stroke="#111" stroke-width="1.3"/>
<text x="574.90" y="316.40" font-size="9.75" text-anchor="end" fill="#383838" >100</text>
<line x1="576.30" y1="278.30" x2="581.00" y2="278.30" stroke="#111" stroke-width="1.3"/>
<text x="574.90" y="281.70" font-size="9.75" text-anchor="end" fill="#383838" >200</text>
<line x1="581.00" y1="347.40" x2="726.70" y2="347.40" stroke="#111" stroke-width="1.3"/>
<rect x="596.40" y="318.30" width="18.40" height="29.10" fill="#fff" stroke="#111" stroke-width="1.3"/>
<line x1="605.60" y1="318.30" x2="605.60" y2="315.20" stroke="#111" stroke-width="1.3"/>
<line x1="601.85" y1="315.20" x2="609.35" y2="315.20" stroke="#111" stroke-width="1.3"/>
<rect x="627.40" y="333.20" width="18.60" height="14.20" fill="#13aee6" stroke="#111" stroke-width="1.3"/>
<line x1="636.70" y1="333.20" x2="636.70" y2="329.30" stroke="#111" stroke-width="1.3"/>
<line x1="632.95" y1="329.30" x2="640.45" y2="329.30" stroke="#111" stroke-width="1.3"/>
<rect x="660.40" y="347.40" width="18.40" height="2.70" fill="#c8497f" stroke="#111" stroke-width="1.3"/>
<line x1="669.60" y1="347.40" x2="669.60" y2="353.20" stroke="#111" stroke-width="1.3"/>
<line x1="665.85" y1="353.20" x2="673.35" y2="353.20" stroke="#111" stroke-width="1.3"/>
<rect x="691.50" y="345.20" width="18.70" height="2.20" fill="#3a3aa0" stroke="#111" stroke-width="1.3"/>
<line x1="700.85" y1="345.20" x2="700.85" y2="342.50" stroke="#111" stroke-width="1.3"/>
<line x1="697.10" y1="342.50" x2="704.60" y2="342.50" stroke="#111" stroke-width="1.3"/>
<circle cx="605.60" cy="290.00" r="1.45" fill="#111"/>
<circle cx="605.60" cy="295.60" r="1.45" fill="#111"/>
<circle cx="605.60" cy="308.30" r="1.45" fill="#111"/>
<circle cx="609.10" cy="307.30" r="1.45" fill="#111"/>
<circle cx="602.10" cy="311.90" r="1.45" fill="#111"/>
<circle cx="609.10" cy="311.90" r="1.45" fill="#111"/>
<circle cx="602.10" cy="316.80" r="1.45" fill="#111"/>
<circle cx="605.60" cy="316.40" r="1.45" fill="#111"/>
<circle cx="605.60" cy="320.60" r="1.45" fill="#111"/>
<circle cx="609.10" cy="319.50" r="1.45" fill="#111"/>
<circle cx="605.60" cy="326.20" r="1.45" fill="#111"/>
<circle cx="602.10" cy="329.80" r="1.45" fill="#111"/>
<circle cx="609.10" cy="330.80" r="1.45" fill="#111"/>
<circle cx="605.60" cy="333.90" r="1.45" fill="#111"/>
<circle cx="602.10" cy="337.00" r="1.45" fill="#111"/>
<circle cx="605.60" cy="340.50" r="1.45" fill="#111"/>
<circle cx="633.20" cy="296.10" r="1.45" fill="#111"/>
<circle cx="637.00" cy="295.60" r="1.45" fill="#111"/>
<circle cx="636.60" cy="323.70" r="1.45" fill="#111"/>
<circle cx="640.10" cy="325.90" r="1.45" fill="#111"/>
<circle cx="633.10" cy="328.70" r="1.45" fill="#111"/>
<circle cx="633.10" cy="331.40" r="1.45" fill="#111"/>
<circle cx="636.60" cy="330.90" r="1.45" fill="#111"/>
<circle cx="640.30" cy="331.20" r="1.45" fill="#111"/>
<circle cx="633.10" cy="334.40" r="1.45" fill="#111"/>
<circle cx="636.60" cy="335.70" r="1.45" fill="#111"/>
<circle cx="633.10" cy="338.80" r="1.45" fill="#111"/>
<circle cx="636.60" cy="338.50" r="1.45" fill="#111"/>
<circle cx="640.10" cy="338.80" r="1.45" fill="#111"/>
<circle cx="633.10" cy="341.00" r="1.45" fill="#111"/>
<circle cx="636.60" cy="342.90" r="1.45" fill="#111"/>
<circle cx="640.10" cy="346.20" r="1.45" fill="#111"/>
<circle cx="636.60" cy="348.20" r="1.45" fill="#111"/>
<circle cx="633.10" cy="350.80" r="1.45" fill="#111"/>
<circle cx="636.60" cy="354.30" r="1.45" fill="#111"/>
<circle cx="666.10" cy="313.40" r="1.45" fill="#111"/>
<circle cx="669.60" cy="315.80" r="1.45" fill="#111"/>
<circle cx="669.60" cy="321.50" r="1.45" fill="#111"/>
<circle cx="673.10" cy="334.80" r="1.45" fill="#111"/>
<circle cx="669.60" cy="338.80" r="1.45" fill="#111"/>
<circle cx="669.60" cy="342.20" r="1.45" fill="#111"/>
<circle cx="662.70" cy="344.00" r="1.45" fill="#111"/>
<circle cx="666.10" cy="345.50" r="1.45" fill="#111"/>
<circle cx="676.50" cy="342.50" r="1.45" fill="#111"/>
<circle cx="673.10" cy="345.50" r="1.45" fill="#111"/>
<circle cx="669.60" cy="346.80" r="1.45" fill="#111"/>
<circle cx="666.10" cy="351.00" r="1.45" fill="#111"/>
<circle cx="669.60" cy="352.10" r="1.45" fill="#111"/>
<circle cx="666.10" cy="353.20" r="1.45" fill="#111"/>
<circle cx="669.60" cy="354.10" r="1.45" fill="#111"/>
<circle cx="673.10" cy="359.00" r="1.45" fill="#111"/>
<circle cx="669.60" cy="359.80" r="1.45" fill="#111"/>
<circle cx="666.10" cy="367.00" r="1.45" fill="#111"/>
<circle cx="669.60" cy="368.20" r="1.45" fill="#111"/>
<circle cx="670.00" cy="389.40" r="1.45" fill="#111"/>
<circle cx="670.00" cy="400.40" r="1.45" fill="#111"/>
<circle cx="700.70" cy="313.10" r="1.45" fill="#111"/>
<circle cx="700.70" cy="328.40" r="1.45" fill="#111"/>
<circle cx="704.40" cy="327.20" r="1.45" fill="#111"/>
<circle cx="700.70" cy="336.30" r="1.45" fill="#111"/>
<circle cx="694.10" cy="341.40" r="1.45" fill="#111"/>
<circle cx="697.60" cy="342.20" r="1.45" fill="#111"/>
<circle cx="701.00" cy="340.90" r="1.45" fill="#111"/>
<circle cx="704.40" cy="341.40" r="1.45" fill="#111"/>
<circle cx="697.60" cy="344.90" r="1.45" fill="#111"/>
<circle cx="704.40" cy="345.50" r="1.45" fill="#111"/>
<circle cx="697.60" cy="348.30" r="1.45" fill="#111"/>
<circle cx="701.00" cy="348.30" r="1.45" fill="#111"/>
<circle cx="704.40" cy="350.60" r="1.45" fill="#111"/>
<circle cx="697.60" cy="350.10" r="1.45" fill="#111"/>
<circle cx="701.00" cy="354.10" r="1.45" fill="#111"/>
<circle cx="697.60" cy="360.20" r="1.45" fill="#111"/>
<circle cx="701.00" cy="361.80" r="1.45" fill="#111"/>
<circle cx="701.00" cy="378.90" r="1.45" fill="#111"/>
<polyline points="602.40,276.60 602.40,246.30 699.60,246.30 699.60,276.60" fill="none" stroke="#5a5a5a" stroke-width="1.15"/>
<text x="650.90" y="247.00" font-size="9.0" text-anchor="middle" fill="#111" stroke="#111" stroke-width="0.35">***</text>
<polyline points="605.20,276.60 605.20,258.00 668.40,258.00 668.40,276.60" fill="none" stroke="#5a5a5a" stroke-width="1.15"/>
<text x="637.20" y="258.80" font-size="9.0" text-anchor="middle" fill="#111" stroke="#111" stroke-width="0.35">***</text>
<rect x="604.6" y="258.6" width="3.0" height="18" fill="#8a8a8a"/>
<polyline points="607.00,276.60 607.00,269.80 634.60,269.80 634.60,276.60" fill="none" stroke="#5a5a5a" stroke-width="1.15"/>
<text x="621.00" y="270.00" font-size="9.0" text-anchor="middle" fill="#111" stroke="#111" stroke-width="0.35">*</text>
<polyline points="637.40,276.60 637.40,269.80 664.60,269.80 664.60,276.60" fill="none" stroke="#5a5a5a" stroke-width="1.15"/>
<text x="651.00" y="270.00" font-size="9.0" text-anchor="middle" fill="#111" stroke="#111" stroke-width="0.35">*</text>
<text x="597.40" y="432.20" font-size="10.4" fill="#2c2c2c" textLength="15.00" lengthAdjust="spacingAndGlyphs">WT</text>
<text x="622.60" y="432.20" font-size="11.2" fill="#1e1e1e" font-style="italic" stroke="#1e1e1e" stroke-width="0.1" textLength="20.00" lengthAdjust="spacingAndGlyphs">Tsc1</text>
<text x="643.40" y="429.40" font-size="6.6" fill="#333" textLength="9.00" lengthAdjust="spacingAndGlyphs">+/&#8211;</text>
<text x="656.40" y="432.20" font-size="11.2" fill="#1e1e1e" font-style="italic" stroke="#1e1e1e" stroke-width="0.1" textLength="20.70" lengthAdjust="spacingAndGlyphs">Tsc2</text>
<text x="678.10" y="429.40" font-size="6.6" fill="#333" textLength="8.70" lengthAdjust="spacingAndGlyphs">+/&#8211;</text>
<text x="690.10" y="432.20" font-size="11.2" fill="#1e1e1e" font-style="italic" stroke="#1e1e1e" stroke-width="0.1" textLength="23.10" lengthAdjust="spacingAndGlyphs">TscD</text>
<text x="713.40" y="429.40" font-size="6.6" fill="#333" textLength="8.60" lengthAdjust="spacingAndGlyphs">+/&#8211;</text>
<text x="585.70" y="444.60" font-size="10.2" text-anchor="middle" fill="#2c2c2c">n</text>
<text x="604.80" y="444.60" font-size="10.2" text-anchor="middle" fill="#2c2c2c">16</text>
<text x="637.40" y="444.60" font-size="10.2" text-anchor="middle" fill="#2c2c2c">20</text>
<text x="669.50" y="444.60" font-size="10.2" text-anchor="middle" fill="#2c2c2c">20</text>
<text x="700.00" y="444.60" font-size="10.2" text-anchor="middle" fill="#2c2c2c">20</text>
</svg>
</body></html>
